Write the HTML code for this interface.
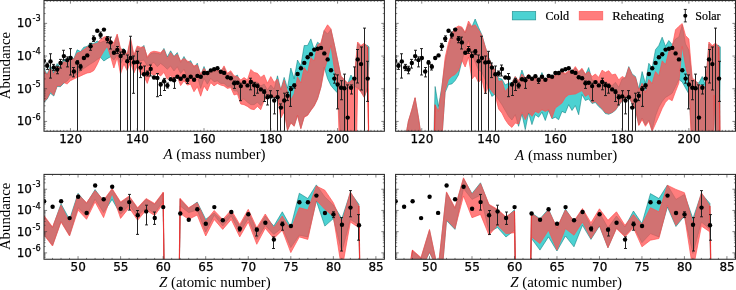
<!DOCTYPE html>
<html><head><meta charset="utf-8"><title>Abundance</title>
<style>
html,body{margin:0;padding:0;background:#fff;}
body{width:736px;height:290px;overflow:hidden;}
svg{display:block;}
.tk{font-family:"DejaVu Sans","Liberation Sans",sans-serif;font-size:12px;fill:#000;stroke:#000;stroke-width:0.25px;}
.lab{font-family:"Liberation Serif",serif;font-size:15px;fill:#000;}
.leg{font-family:"Liberation Serif",serif;font-size:12px;fill:#000;stroke:#000;stroke-width:0.2px;}
</style></head><body>
<svg width="736" height="290" viewBox="0 0 736 290">
<rect width="736" height="290" fill="#fff"/>
<defs>
<clipPath id="ctl"><rect x="44" y="0.55" width="340.4" height="130.7"/></clipPath>
<clipPath id="ctr"><rect x="395.6" y="0.55" width="339.9" height="130.7"/></clipPath>
<clipPath id="cbl"><rect x="44" y="174.4" width="340.4" height="84.85"/></clipPath>
<clipPath id="cbr"><rect x="395.6" y="174.4" width="339.9" height="84.85"/></clipPath>
</defs>
<g clip-path="url(#ctl)">
<path d="M43.74 67.6 L47.08 74.5 L50.42 65.6 L53.76 72.8 L57.09 63.6 L60.43 67 L63.77 59.1 L67.11 61.3 L70.45 55.1 L73.79 59 L77.13 49.8 L80.47 51.5 L83.81 47.2 L87.15 46.5 L90.48 43.1 L93.82 43.5 L97.16 41 L100.5 42.5 L103.84 41 L107.18 41.5 L110.52 45 L113.86 46 L117.2 35.5 L120.53 49.9 L123.87 48.6 L127.21 55.5 L130.55 39.5 L133.89 56.5 L137.23 47.5 L140.57 48.8 L143.91 45.4 L147.25 58.2 L150.59 53.75 L153.93 52.75 L157.26 53.25 L160.6 54.1 L163.94 48.4 L167.28 57 L170.62 50.8 L173.96 56.5 L177.3 52.6 L180.64 62.4 L183.98 56.5 L187.31 62.4 L190.65 60.7 L193.99 67.4 L197.33 63.2 L200.67 75.6 L204.01 66.5 L207.35 74.8 L210.69 72.3 L214.03 71.5 L217.37 70.7 L220.7 73.2 L224.04 67.4 L227.38 74.8 L230.72 72.3 L234.06 77.3 L237.4 75 L240.74 84 L244.08 82 L247.42 85 L250.76 79 L254.1 82 L257.43 82 L260.77 86 L264.11 84 L267.45 90 L270.79 85 L274.13 89 L277.47 75.8 L280.81 89.9 L284.15 77.4 L287.49 88.2 L290.82 68 L294.16 78.75 L297.5 60 L300.84 66 L304.18 45.5 L307.52 45.5 L310.86 38.9 L314.2 49.7 L317.54 42.2 L320.88 44.7 L324.21 30.5 L327.55 34 L330.89 29.5 L334.23 44.2 L337.57 60.2 L340.91 76.5 L344.25 80 L347.59 84 L350.93 75 L354.26 80 L357.6 43.5 L360.94 47.1 L364.28 44.6 L367.62 45.5 L369.02 47 L369.02 60 L367.62 87.5 L364.28 97 L360.94 91.5 L357.6 87.5 L356.6 87.5 L354.26 86 L350.93 86.5 L347.59 88 L346.25 90 L345.42 140 L344.25 140 L340.91 140 L337.57 93 L334.23 89.5 L330.89 85.5 L327.55 78.5 L324.21 67 L320.88 87 L317.54 98.5 L314.2 105.5 L310.86 110 L307.52 115 L304.18 116.7 L300.84 128.3 L297.5 115 L294.16 125.8 L290.82 122.5 L287.49 129.9 L284.15 108 L280.81 110 L277.47 96 L274.13 96 L270.79 95 L267.45 96 L264.11 99.75 L260.77 105.6 L257.43 102.2 L254.1 104.7 L250.76 104.7 L247.42 102.2 L244.08 99 L240.74 99.75 L237.4 91 L234.06 91 L230.72 85.9 L227.38 86.7 L224.04 83.4 L220.7 83.4 L217.37 80.9 L214.03 81.75 L210.69 78.4 L207.35 84.2 L204.01 78.4 L200.67 88.4 L197.33 76 L193.99 80.9 L190.65 75.1 L187.31 76.8 L183.98 69.3 L180.64 73.5 L177.3 66.8 L173.96 71 L170.62 66 L167.28 69.3 L163.94 66 L160.6 63.4 L157.26 66.7 L153.93 62.5 L150.59 64.2 L147.25 65.9 L143.91 60 L140.57 60.9 L137.23 59.2 L133.89 63.4 L130.55 55 L127.21 63 L123.87 58 L120.53 64 L117.2 55 L113.86 60 L110.52 56.8 L107.18 58.7 L103.84 61 L100.5 57.3 L97.16 59.5 L93.82 62 L90.48 64 L87.15 66.25 L83.81 68.5 L80.47 71.25 L77.13 74 L73.79 76.5 L70.45 77 L67.11 81 L63.77 83.2 L60.43 86.7 L57.09 86.5 L53.76 96 L50.42 93.2 L47.08 99.3 L43.74 102.3Z" fill="rgb(0,191,191)" fill-opacity="0.7" stroke="rgb(0,120,120)" stroke-opacity="0.75" stroke-width="0.7" stroke-linejoin="miter"/>
<path d="M43.74 70 L47.08 75 L50.42 68 L53.76 74.5 L57.09 66 L60.43 67.5 L63.77 61.5 L67.11 63 L70.45 57.5 L73.79 59.5 L77.13 53 L80.47 52 L83.81 49.6 L87.15 47 L90.48 45.5 L93.82 44 L97.16 43.4 L100.5 39.6 L103.84 37.1 L107.18 36.5 L110.52 40.25 L113.86 42.75 L117.2 34 L120.53 48.4 L123.87 50.25 L127.21 54 L130.55 38 L133.89 55 L137.23 46 L140.57 47.3 L143.91 46.8 L147.25 56.7 L150.59 52.25 L153.93 51.25 L157.26 51.75 L160.6 52.6 L163.94 49.6 L167.28 58.4 L170.62 52.6 L173.96 56.7 L177.3 54.2 L180.64 60.9 L183.98 58.4 L187.31 60.9 L190.65 62.5 L193.99 65.9 L197.33 65 L200.67 74.1 L204.01 68.3 L207.35 73.3 L210.69 70.8 L214.03 70 L217.37 69.2 L220.7 71.7 L224.04 65.9 L227.38 73.3 L230.72 70.8 L234.06 75.8 L237.4 76.5 L240.74 80 L244.08 77.5 L247.42 80 L250.76 69.5 L254.1 72.4 L257.43 73.3 L260.77 77.4 L264.11 74.9 L267.45 83.2 L270.79 76.6 L274.13 82.4 L277.47 79 L280.81 89.9 L284.15 80 L287.49 92 L290.82 100 L294.16 93.75 L297.5 77 L300.84 83 L304.18 67.5 L307.52 72.5 L310.86 57.5 L314.2 61 L317.54 44.7 L320.88 43 L324.21 30.6 L327.55 24.8 L330.89 28.75 L334.23 44 L337.57 60 L340.91 76 L344.25 79.5 L347.59 83 L350.93 81 L354.26 78 L357.6 42 L360.94 45.6 L364.28 43.1 L367.62 47 L368.62 140 L368.62 140 L367.62 88 L364.28 97.5 L360.94 92 L357.6 88 L356.6 140 L354.26 140 L339.24 140 L337.57 88 L334.23 68 L330.89 45.5 L327.55 59.5 L324.21 70.5 L320.88 87.5 L317.54 99 L314.2 106 L310.86 110.5 L307.52 115.5 L304.18 117.2 L300.84 128.8 L297.5 115.5 L294.16 126.3 L290.82 123 L287.49 130.4 L284.15 112 L280.81 118 L277.47 97.3 L274.13 97.3 L270.79 96.4 L267.45 97.3 L264.11 100.6 L260.77 109.7 L257.43 106.4 L254.1 109.7 L250.76 108.9 L247.42 106.4 L244.08 104.7 L240.74 104 L237.4 94 L234.06 95 L230.72 87.6 L227.38 88.4 L224.04 85.9 L220.7 85.1 L217.37 83.4 L214.03 85.9 L210.69 82.6 L207.35 90.9 L204.01 85.9 L200.67 96.2 L197.33 86.7 L193.99 91.7 L190.65 84.2 L187.31 85.1 L183.98 80.9 L180.64 85.6 L177.3 76.8 L173.96 80.1 L170.62 75.6 L167.28 79.3 L163.94 72.3 L160.6 76 L157.26 73.5 L153.93 75.1 L150.59 73.5 L147.25 83.4 L143.91 76 L140.57 73.5 L137.23 66 L133.89 73 L130.55 62 L127.21 70.6 L123.87 64 L120.53 74 L117.2 57.5 L113.86 68 L110.52 56.25 L107.18 46.25 L103.84 51.25 L100.5 56.9 L97.16 64.5 L93.82 70.5 L90.48 72.4 L87.15 73 L83.81 74.4 L80.47 76 L77.13 77.4 L73.79 79 L70.45 80.7 L67.11 84 L63.77 82.4 L60.43 85.9 L57.09 85.7 L53.76 95.2 L50.42 91.5 L47.08 98.5 L43.74 101.5Z" fill="rgb(255,80,80)" fill-opacity="0.745" stroke="rgb(255,80,80)" stroke-opacity="0.745" stroke-width="0.9" stroke-linejoin="miter"/>
<path d="M367.62 47 L368.62 131.25" stroke="rgb(235,40,40)" stroke-opacity="0.75" stroke-width="1.1" fill="none"/>
<path d="M43.5 56 V66" stroke="#222" stroke-width="1" fill="none"/>
<path d="M42 56h3" stroke="#111" stroke-width="0.9"/>
<path d="M42 66h3" stroke="#111" stroke-width="0.9"/>
<path d="M47.5 63.1 V69.4" stroke="#222" stroke-width="1" fill="none"/>
<path d="M46 63.1h3" stroke="#111" stroke-width="0.9"/>
<path d="M46 69.4h3" stroke="#111" stroke-width="0.9"/>
<path d="M50.5 53.75 V78.1" stroke="#222" stroke-width="1" fill="none"/>
<path d="M49 53.75h3" stroke="#111" stroke-width="0.9"/>
<path d="M49 78.1h3" stroke="#111" stroke-width="0.9"/>
<path d="M53.5 64.4 V70.6" stroke="#222" stroke-width="1" fill="none"/>
<path d="M52 64.4h3" stroke="#111" stroke-width="0.9"/>
<path d="M52 70.6h3" stroke="#111" stroke-width="0.9"/>
<path d="M57.5 66.25 V73.75" stroke="#222" stroke-width="1" fill="none"/>
<path d="M56 66.25h3" stroke="#111" stroke-width="0.9"/>
<path d="M56 73.75h3" stroke="#111" stroke-width="0.9"/>
<path d="M60.5 59.4 V68.1" stroke="#222" stroke-width="1" fill="none"/>
<path d="M59 59.4h3" stroke="#111" stroke-width="0.9"/>
<path d="M59 68.1h3" stroke="#111" stroke-width="0.9"/>
<path d="M63.5 50.25 V60" stroke="#222" stroke-width="1" fill="none"/>
<path d="M62 50.25h3" stroke="#111" stroke-width="0.9"/>
<path d="M62 60h3" stroke="#111" stroke-width="0.9"/>
<path d="M67.5 56.9 V66.9" stroke="#222" stroke-width="1" fill="none"/>
<path d="M66 56.9h3" stroke="#111" stroke-width="0.9"/>
<path d="M66 66.9h3" stroke="#111" stroke-width="0.9"/>
<path d="M70.5 48.6 V75" stroke="#222" stroke-width="1" fill="none"/>
<path d="M69 48.6h3" stroke="#111" stroke-width="0.9"/>
<path d="M69 75h3" stroke="#111" stroke-width="0.9"/>
<path d="M73.5 67.5 V76.9" stroke="#222" stroke-width="1" fill="none"/>
<path d="M72 67.5h3" stroke="#111" stroke-width="0.9"/>
<path d="M72 76.9h3" stroke="#111" stroke-width="0.9"/>
<path d="M77.5 60.6 V131.25" stroke="#222" stroke-width="1" fill="none"/>
<path d="M76 60.6h3" stroke="#111" stroke-width="0.9"/>
<path d="M80.5 64.4 V70" stroke="#222" stroke-width="1" fill="none"/>
<path d="M79 64.4h3" stroke="#111" stroke-width="0.9"/>
<path d="M79 70h3" stroke="#111" stroke-width="0.9"/>
<path d="M90.5 43.4 V50.25" stroke="#222" stroke-width="1" fill="none"/>
<path d="M89 43.4h3" stroke="#111" stroke-width="0.9"/>
<path d="M89 50.25h3" stroke="#111" stroke-width="0.9"/>
<path d="M93.5 35.9 V41.5" stroke="#222" stroke-width="1" fill="none"/>
<path d="M92 35.9h3" stroke="#111" stroke-width="0.9"/>
<path d="M92 41.5h3" stroke="#111" stroke-width="0.9"/>
<path d="M100.5 32 V38" stroke="#222" stroke-width="1" fill="none"/>
<path d="M99 32h3" stroke="#111" stroke-width="0.9"/>
<path d="M99 38h3" stroke="#111" stroke-width="0.9"/>
<path d="M107.5 36.5 V42.75" stroke="#222" stroke-width="1" fill="none"/>
<path d="M106 36.5h3" stroke="#111" stroke-width="0.9"/>
<path d="M106 42.75h3" stroke="#111" stroke-width="0.9"/>
<path d="M110.5 37.1 V49" stroke="#222" stroke-width="1" fill="none"/>
<path d="M109 37.1h3" stroke="#111" stroke-width="0.9"/>
<path d="M109 49h3" stroke="#111" stroke-width="0.9"/>
<path d="M117.5 46.5 V53.4" stroke="#222" stroke-width="1" fill="none"/>
<path d="M116 46.5h3" stroke="#111" stroke-width="0.9"/>
<path d="M116 53.4h3" stroke="#111" stroke-width="0.9"/>
<path d="M120.5 52 V131.25" stroke="#222" stroke-width="1" fill="none"/>
<path d="M119 52h3" stroke="#111" stroke-width="0.9"/>
<path d="M123.5 49.6 V54.6" stroke="#222" stroke-width="1" fill="none"/>
<path d="M122 49.6h3" stroke="#111" stroke-width="0.9"/>
<path d="M122 54.6h3" stroke="#111" stroke-width="0.9"/>
<path d="M127.5 55 V131.25" stroke="#222" stroke-width="1" fill="none"/>
<path d="M126 55h3" stroke="#111" stroke-width="0.9"/>
<path d="M130.5 36.25 V131.25" stroke="#222" stroke-width="1" fill="none"/>
<path d="M129 36.25h3" stroke="#111" stroke-width="0.9"/>
<path d="M133.5 56 V93.3" stroke="#222" stroke-width="1" fill="none"/>
<path d="M132 56h3" stroke="#111" stroke-width="0.9"/>
<path d="M132 93.3h3" stroke="#111" stroke-width="0.9"/>
<path d="M137.5 51.3 V131.25" stroke="#222" stroke-width="1" fill="none"/>
<path d="M136 51.3h3" stroke="#111" stroke-width="0.9"/>
<path d="M140.5 63 V77.6" stroke="#222" stroke-width="1" fill="none"/>
<path d="M139 63h3" stroke="#111" stroke-width="0.9"/>
<path d="M139 77.6h3" stroke="#111" stroke-width="0.9"/>
<path d="M144.5 66 V131.25" stroke="#222" stroke-width="1" fill="none"/>
<path d="M143 66h3" stroke="#111" stroke-width="0.9"/>
<path d="M147.5 71 V76" stroke="#222" stroke-width="1" fill="none"/>
<path d="M146 71h3" stroke="#111" stroke-width="0.9"/>
<path d="M146 76h3" stroke="#111" stroke-width="0.9"/>
<path d="M150.5 65 V76" stroke="#222" stroke-width="1" fill="none"/>
<path d="M149 65h3" stroke="#111" stroke-width="0.9"/>
<path d="M149 76h3" stroke="#111" stroke-width="0.9"/>
<path d="M157.5 73.5 V96.7" stroke="#222" stroke-width="1" fill="none"/>
<path d="M156 73.5h3" stroke="#111" stroke-width="0.9"/>
<path d="M156 96.7h3" stroke="#111" stroke-width="0.9"/>
<path d="M160.5 82.6 V95.5" stroke="#222" stroke-width="1" fill="none"/>
<path d="M159 82.6h3" stroke="#111" stroke-width="0.9"/>
<path d="M159 95.5h3" stroke="#111" stroke-width="0.9"/>
<path d="M164.5 78.4 V90.5" stroke="#222" stroke-width="1" fill="none"/>
<path d="M163 78.4h3" stroke="#111" stroke-width="0.9"/>
<path d="M163 90.5h3" stroke="#111" stroke-width="0.9"/>
<path d="M167.5 83 V88" stroke="#222" stroke-width="1" fill="none"/>
<path d="M166 83h3" stroke="#111" stroke-width="0.9"/>
<path d="M166 88h3" stroke="#111" stroke-width="0.9"/>
<path d="M174.5 77.6 V88.4" stroke="#222" stroke-width="1" fill="none"/>
<path d="M173 77.6h3" stroke="#111" stroke-width="0.9"/>
<path d="M173 88.4h3" stroke="#111" stroke-width="0.9"/>
<path d="M187.5 78 V83.4" stroke="#222" stroke-width="1" fill="none"/>
<path d="M186 78h3" stroke="#111" stroke-width="0.9"/>
<path d="M186 83.4h3" stroke="#111" stroke-width="0.9"/>
<path d="M234.5 81 V88.4" stroke="#222" stroke-width="1" fill="none"/>
<path d="M233 81h3" stroke="#111" stroke-width="0.9"/>
<path d="M233 88.4h3" stroke="#111" stroke-width="0.9"/>
<path d="M240.5 83.2 V100.7" stroke="#222" stroke-width="1" fill="none"/>
<path d="M239 83.2h3" stroke="#111" stroke-width="0.9"/>
<path d="M239 100.7h3" stroke="#111" stroke-width="0.9"/>
<path d="M250.5 78.2 V89.8" stroke="#222" stroke-width="1" fill="none"/>
<path d="M249 78.2h3" stroke="#111" stroke-width="0.9"/>
<path d="M249 89.8h3" stroke="#111" stroke-width="0.9"/>
<path d="M254.5 82.4 V95.6" stroke="#222" stroke-width="1" fill="none"/>
<path d="M253 82.4h3" stroke="#111" stroke-width="0.9"/>
<path d="M253 95.6h3" stroke="#111" stroke-width="0.9"/>
<path d="M257.5 84 V93.2" stroke="#222" stroke-width="1" fill="none"/>
<path d="M256 84h3" stroke="#111" stroke-width="0.9"/>
<path d="M256 93.2h3" stroke="#111" stroke-width="0.9"/>
<path d="M264.5 89.8 V101.5" stroke="#222" stroke-width="1" fill="none"/>
<path d="M263 89.8h3" stroke="#111" stroke-width="0.9"/>
<path d="M263 101.5h3" stroke="#111" stroke-width="0.9"/>
<path d="M267.5 94.8 V105" stroke="#222" stroke-width="1" fill="none"/>
<path d="M266 94.8h3" stroke="#111" stroke-width="0.9"/>
<path d="M266 105h3" stroke="#111" stroke-width="0.9"/>
<path d="M270.5 90.7 V131.25" stroke="#222" stroke-width="1" fill="none"/>
<path d="M269 90.7h3" stroke="#111" stroke-width="0.9"/>
<path d="M274.5 97.3 V113.9" stroke="#222" stroke-width="1" fill="none"/>
<path d="M273 97.3h3" stroke="#111" stroke-width="0.9"/>
<path d="M273 113.9h3" stroke="#111" stroke-width="0.9"/>
<path d="M277.5 90.6 V131.25" stroke="#222" stroke-width="1" fill="none"/>
<path d="M276 90.6h3" stroke="#111" stroke-width="0.9"/>
<path d="M280.5 103.9 V131.25" stroke="#222" stroke-width="1" fill="none"/>
<path d="M279 103.9h3" stroke="#111" stroke-width="0.9"/>
<path d="M284.5 93.2 V131.25" stroke="#222" stroke-width="1" fill="none"/>
<path d="M283 93.2h3" stroke="#111" stroke-width="0.9"/>
<path d="M287.5 92.3 V100.6" stroke="#222" stroke-width="1" fill="none"/>
<path d="M286 92.3h3" stroke="#111" stroke-width="0.9"/>
<path d="M286 100.6h3" stroke="#111" stroke-width="0.9"/>
<path d="M290.5 86.5 V106.4" stroke="#222" stroke-width="1" fill="none"/>
<path d="M289 86.5h3" stroke="#111" stroke-width="0.9"/>
<path d="M289 106.4h3" stroke="#111" stroke-width="0.9"/>
<path d="M294.5 84 V88.2" stroke="#222" stroke-width="1" fill="none"/>
<path d="M293 84h3" stroke="#111" stroke-width="0.9"/>
<path d="M293 88.2h3" stroke="#111" stroke-width="0.9"/>
<path d="M334.5 74.1 V83.2" stroke="#222" stroke-width="1" fill="none"/>
<path d="M333 74.1h3" stroke="#111" stroke-width="0.9"/>
<path d="M333 83.2h3" stroke="#111" stroke-width="0.9"/>
<path d="M337.5 74.9 V108.9" stroke="#222" stroke-width="1" fill="none"/>
<path d="M336 74.9h3" stroke="#111" stroke-width="0.9"/>
<path d="M336 108.9h3" stroke="#111" stroke-width="0.9"/>
<path d="M341.5 80.7 V99.75" stroke="#222" stroke-width="1" fill="none"/>
<path d="M340 80.7h3" stroke="#111" stroke-width="0.9"/>
<path d="M340 99.75h3" stroke="#111" stroke-width="0.9"/>
<path d="M344.5 74.1 V131.25" stroke="#222" stroke-width="1" fill="none"/>
<path d="M343 74.1h3" stroke="#111" stroke-width="0.9"/>
<path d="M347.5 84.9 V131.25" stroke="#222" stroke-width="1" fill="none"/>
<path d="M346 84.9h3" stroke="#111" stroke-width="0.9"/>
<path d="M351.5 84.9 V94" stroke="#222" stroke-width="1" fill="none"/>
<path d="M350 84.9h3" stroke="#111" stroke-width="0.9"/>
<path d="M350 94h3" stroke="#111" stroke-width="0.9"/>
<path d="M354.5 66.9 V131.25" stroke="#222" stroke-width="1" fill="none"/>
<path d="M353 66.9h3" stroke="#111" stroke-width="0.9"/>
<path d="M357.5 49.5 V83" stroke="#222" stroke-width="1" fill="none"/>
<path d="M356 49.5h3" stroke="#111" stroke-width="0.9"/>
<path d="M356 83h3" stroke="#111" stroke-width="0.9"/>
<path d="M361.5 47 V90" stroke="#222" stroke-width="1" fill="none"/>
<path d="M360 47h3" stroke="#111" stroke-width="0.9"/>
<path d="M360 90h3" stroke="#111" stroke-width="0.9"/>
<path d="M364.5 28.1 V131.25" stroke="#222" stroke-width="1" fill="none"/>
<path d="M363 28.1h3" stroke="#111" stroke-width="0.9"/>
<path d="M367.5 61.3 V101.4" stroke="#222" stroke-width="1" fill="none"/>
<path d="M366 61.3h3" stroke="#111" stroke-width="0.9"/>
<path d="M366 101.4h3" stroke="#111" stroke-width="0.9"/>
<circle cx="43.84" cy="60.9" r="2.2" fill="#000"/>
<circle cx="47.18" cy="65.8" r="2.2" fill="#000"/>
<circle cx="50.52" cy="61.4" r="2.2" fill="#000"/>
<circle cx="53.86" cy="67.4" r="2.2" fill="#000"/>
<circle cx="57.19" cy="69.5" r="2.2" fill="#000"/>
<circle cx="60.53" cy="63" r="2.2" fill="#000"/>
<circle cx="63.87" cy="56.1" r="2.2" fill="#000"/>
<circle cx="67.21" cy="60.1" r="2.2" fill="#000"/>
<circle cx="70.55" cy="58" r="2.2" fill="#000"/>
<circle cx="73.89" cy="71.5" r="2.2" fill="#000"/>
<circle cx="77.23" cy="62.65" r="2.2" fill="#000"/>
<circle cx="80.57" cy="66.8" r="2.2" fill="#000"/>
<circle cx="83.91" cy="58" r="2.2" fill="#000"/>
<circle cx="87.25" cy="55.4" r="2.2" fill="#000"/>
<circle cx="90.58" cy="46.3" r="2.2" fill="#000"/>
<circle cx="93.92" cy="38.7" r="2.2" fill="#000"/>
<circle cx="97.26" cy="30.7" r="2.2" fill="#000"/>
<circle cx="100.6" cy="34.9" r="2.2" fill="#000"/>
<circle cx="103.94" cy="29.6" r="2.2" fill="#000"/>
<circle cx="107.28" cy="39.1" r="2.2" fill="#000"/>
<circle cx="110.62" cy="42.4" r="2.2" fill="#000"/>
<circle cx="113.96" cy="52.8" r="2.2" fill="#000"/>
<circle cx="117.3" cy="49.9" r="2.2" fill="#000"/>
<circle cx="120.63" cy="56" r="2.2" fill="#000"/>
<circle cx="123.97" cy="51.8" r="2.2" fill="#000"/>
<circle cx="127.31" cy="61.2" r="2.2" fill="#000"/>
<circle cx="130.65" cy="58" r="2.2" fill="#000"/>
<circle cx="133.99" cy="62.4" r="2.2" fill="#000"/>
<circle cx="137.33" cy="62.1" r="2.2" fill="#000"/>
<circle cx="140.67" cy="67.6" r="2.2" fill="#000"/>
<circle cx="144.01" cy="74.2" r="2.2" fill="#000"/>
<circle cx="147.35" cy="73.4" r="2.2" fill="#000"/>
<circle cx="150.69" cy="68.9" r="2.2" fill="#000"/>
<circle cx="154.03" cy="77.5" r="2.2" fill="#000"/>
<circle cx="157.36" cy="77.9" r="2.2" fill="#000"/>
<circle cx="160.7" cy="84.6" r="2.2" fill="#000"/>
<circle cx="164.04" cy="81.3" r="2.2" fill="#000"/>
<circle cx="167.38" cy="85.5" r="2.2" fill="#000"/>
<circle cx="170.72" cy="79.2" r="2.2" fill="#000"/>
<circle cx="174.06" cy="80.3" r="2.2" fill="#000"/>
<circle cx="177.4" cy="76.7" r="2.2" fill="#000"/>
<circle cx="180.74" cy="78.8" r="2.2" fill="#000"/>
<circle cx="184.08" cy="76.3" r="2.2" fill="#000"/>
<circle cx="187.41" cy="80" r="2.2" fill="#000"/>
<circle cx="190.75" cy="76.7" r="2.2" fill="#000"/>
<circle cx="194.09" cy="79.7" r="2.2" fill="#000"/>
<circle cx="197.43" cy="75.9" r="2.2" fill="#000"/>
<circle cx="200.77" cy="76.7" r="2.2" fill="#000"/>
<circle cx="204.11" cy="73" r="2.2" fill="#000"/>
<circle cx="207.45" cy="73" r="2.2" fill="#000"/>
<circle cx="210.79" cy="70.4" r="2.2" fill="#000"/>
<circle cx="214.13" cy="69.2" r="2.2" fill="#000"/>
<circle cx="217.47" cy="68.2" r="2.2" fill="#000"/>
<circle cx="220.8" cy="71.7" r="2.2" fill="#000"/>
<circle cx="224.14" cy="72.9" r="2.2" fill="#000"/>
<circle cx="227.48" cy="77.2" r="2.2" fill="#000"/>
<circle cx="230.82" cy="78.3" r="2.2" fill="#000"/>
<circle cx="234.16" cy="83.3" r="2.2" fill="#000"/>
<circle cx="237.5" cy="82.8" r="2.2" fill="#000"/>
<circle cx="240.84" cy="86.1" r="2.2" fill="#000"/>
<circle cx="244.18" cy="82.1" r="2.2" fill="#000"/>
<circle cx="247.52" cy="85.4" r="2.2" fill="#000"/>
<circle cx="250.86" cy="82" r="2.2" fill="#000"/>
<circle cx="254.2" cy="85.3" r="2.2" fill="#000"/>
<circle cx="257.53" cy="86.1" r="2.2" fill="#000"/>
<circle cx="260.87" cy="89.4" r="2.2" fill="#000"/>
<circle cx="264.21" cy="91.9" r="2.2" fill="#000"/>
<circle cx="267.55" cy="97.2" r="2.2" fill="#000"/>
<circle cx="270.89" cy="96.4" r="2.2" fill="#000"/>
<circle cx="274.23" cy="100.5" r="2.2" fill="#000"/>
<circle cx="277.57" cy="97.2" r="2.2" fill="#000"/>
<circle cx="280.91" cy="107.6" r="2.2" fill="#000"/>
<circle cx="284.25" cy="100.5" r="2.2" fill="#000"/>
<circle cx="287.59" cy="95.7" r="2.2" fill="#000"/>
<circle cx="290.92" cy="89.1" r="2.2" fill="#000"/>
<circle cx="294.26" cy="85.4" r="2.2" fill="#000"/>
<circle cx="297.6" cy="74" r="2.2" fill="#000"/>
<circle cx="300.94" cy="68.2" r="2.2" fill="#000"/>
<circle cx="304.28" cy="62.9" r="2.2" fill="#000"/>
<circle cx="307.62" cy="57.3" r="2.2" fill="#000"/>
<circle cx="310.96" cy="54.2" r="2.2" fill="#000"/>
<circle cx="314.3" cy="49.6" r="2.2" fill="#000"/>
<circle cx="317.64" cy="48.7" r="2.2" fill="#000"/>
<circle cx="320.98" cy="47.9" r="2.2" fill="#000"/>
<circle cx="324.31" cy="53.4" r="2.2" fill="#000"/>
<circle cx="327.65" cy="59.4" r="2.2" fill="#000"/>
<circle cx="330.99" cy="70.2" r="2.2" fill="#000"/>
<circle cx="334.33" cy="78.6" r="2.2" fill="#000"/>
<circle cx="337.67" cy="84.5" r="2.2" fill="#000"/>
<circle cx="341.01" cy="87.8" r="2.2" fill="#000"/>
<circle cx="344.35" cy="88.2" r="2.2" fill="#000"/>
<circle cx="347.69" cy="117.6" r="2.2" fill="#000"/>
<circle cx="351.03" cy="87.8" r="2.2" fill="#000"/>
<circle cx="354.37" cy="78.6" r="2.2" fill="#000"/>
<circle cx="357.7" cy="59.4" r="2.2" fill="#000"/>
<circle cx="361.04" cy="64.1" r="2.2" fill="#000"/>
<circle cx="367.72" cy="78.6" r="2.2" fill="#000"/>
</g>
<g clip-path="url(#ctr)">
<path d="M405.06 140 L408.39 121.5 L411.73 110.5 L415.07 98 L418.41 117.5 L421.75 140 L433.77 140 L435.11 86.5 L438.44 106.4 L441.78 87.3 L445.12 62 L448.46 47 L451.8 36 L455.14 30 L458.48 27.5 L461.82 28 L465.16 33 L468.5 24 L471.83 27 L475.17 19 L478.51 27.3 L481.85 34.7 L485.19 46.5 L488.53 57.2 L491.87 64.2 L495.21 70.7 L498.55 78.2 L501.89 79 L505.23 84.9 L508.56 83.2 L511.9 82.4 L515.24 76.6 L518.58 82 L521.92 70 L525.26 79.5 L528.6 75 L531.94 81 L535.28 76.5 L538.62 81 L541.95 72.5 L545.29 82 L548.63 76.5 L551.97 80 L555.31 75 L558.65 75 L561.99 73 L565.33 74.3 L568.67 71.8 L572 72.6 L575.34 68 L578.68 72.6 L582.02 69.3 L585.36 75 L588.7 67.5 L592.04 80 L595.38 81.5 L598.72 83 L602.06 79 L605.39 83 L608.73 84.8 L612.07 85.7 L615.41 82.3 L618.75 87.3 L622.09 79 L625.43 77.4 L628.77 66.6 L632.11 74 L635.45 76.5 L638.78 89 L642.12 71.6 L645.46 83.6 L648.8 63.3 L652.14 68.2 L655.48 49.7 L658.82 45.5 L662.16 37.2 L665.5 46.3 L668.84 40.5 L672.17 44.7 L675.51 39 L678.85 37 L682.19 25 L685.53 44 L688.87 50 L692.21 80 L695.55 82 L698.89 83 L702.23 76.5 L705.57 85.6 L708.9 44 L712.24 47 L715.58 45 L718.92 45.5 L720.32 47 L720.32 60 L719.59 140 L715.25 140 L714.25 95.5 L713.24 140 L692.21 140 L688.87 94 L685.53 88 L682.19 82 L678.85 79.5 L675.51 86.6 L672.17 93.2 L668.84 95.5 L665.5 97.4 L662.16 101.5 L658.82 107.3 L655.48 116 L652.14 130 L648.8 120 L645.46 125 L642.12 118 L638.78 125 L635.45 109.5 L632.11 103.7 L628.77 97 L625.43 97.9 L622.09 101.2 L618.75 105.3 L615.41 110.3 L612.07 112.8 L608.73 114.3 L605.39 113.5 L602.06 109.3 L598.72 106.5 L595.38 102.5 L592.04 103.5 L588.7 99 L585.36 100.5 L582.02 94.5 L578.68 114.7 L575.34 105.6 L572 110.5 L568.67 104.7 L565.33 113 L561.99 111.4 L558.65 119.7 L555.31 117.2 L551.97 118.8 L548.63 110.5 L545.29 120.5 L541.95 112.2 L538.62 117.2 L535.28 114.7 L531.94 124.6 L528.6 113 L525.26 129.6 L521.92 113.9 L518.58 126.3 L515.24 114.7 L511.9 120 L508.56 116.3 L505.23 110.5 L501.89 104.7 L498.55 99.75 L495.21 94 L491.87 96.4 L488.53 88.5 L485.19 80 L481.85 72 L478.51 70 L475.17 62 L471.83 54.6 L468.5 40.3 L465.16 49.6 L461.82 61.5 L458.48 75 L455.14 80.6 L451.8 84 L448.46 84.6 L445.12 92.5 L441.78 140 L433.77 140 L421.75 140 L405.06 140Z" fill="rgb(0,191,191)" fill-opacity="0.7" stroke="rgb(0,120,120)" stroke-opacity="0.75" stroke-width="0.7" stroke-linejoin="miter"/>
<path d="M405.06 140 L408.39 121 L411.73 110 L415.07 97.5 L418.41 117 L421.75 140 L434.44 140 L435.11 104.7 L438.44 111.4 L441.78 89 L445.12 57.5 L448.46 43 L451.8 33.9 L455.14 28.1 L458.48 26 L461.82 27 L465.16 32.2 L468.5 21 L471.83 26.4 L475.17 24.8 L478.51 29.75 L481.85 35.6 L485.19 46.8 L488.53 57.5 L491.87 64.5 L495.21 71 L498.55 81.6 L501.89 80.7 L505.23 91.5 L508.56 87.4 L511.9 83.2 L515.24 76.6 L518.58 80.7 L521.92 74.1 L525.26 78.2 L528.6 74.1 L531.94 79.9 L535.28 75.75 L538.62 79.9 L541.95 74.9 L545.29 80.7 L548.63 75.75 L551.97 79 L555.31 74.1 L558.65 74.1 L561.99 72 L565.33 73.3 L568.67 70.8 L572 71.6 L575.34 66.6 L578.68 71.6 L582.02 68.3 L585.36 74.1 L588.7 71.6 L592.04 76.6 L595.38 74 L598.72 77.4 L602.06 70.2 L605.39 72.4 L608.73 70.7 L612.07 74.9 L615.41 74 L618.75 79.9 L622.09 76.5 L625.43 78.2 L628.77 67.4 L632.11 74.9 L635.45 77.4 L638.78 90.2 L642.12 83.2 L645.46 92.6 L648.8 79.5 L652.14 83.5 L655.48 71.6 L658.82 75.7 L662.16 60.8 L665.5 64.5 L668.84 51.5 L672.17 47 L675.51 29.75 L678.85 26.4 L682.19 23.6 L685.53 35.6 L688.87 39 L692.21 78 L695.55 80.7 L698.89 84.8 L702.23 85.6 L705.57 87 L708.9 42 L712.24 45.6 L715.58 43.1 L718.92 47 L719.92 140 L719.92 140 L715.25 140 L714.25 95 L713.24 140 L691.21 140 L688.87 80 L685.53 66 L682.19 46.3 L678.85 83 L675.51 91.6 L672.17 100.7 L668.84 98.8 L665.5 102.3 L662.16 108.5 L658.82 116.4 L655.48 123.8 L652.14 131.3 L648.8 121.3 L645.46 126.3 L642.12 119.7 L638.78 125.5 L635.45 109 L632.11 103.2 L628.77 96.5 L625.43 97.4 L622.09 100.7 L618.75 104.8 L615.41 109.8 L612.07 112.3 L608.73 113.5 L605.39 112.5 L602.06 108.5 L598.72 105 L595.38 101.5 L592.04 102.5 L588.7 94 L585.36 96.4 L582.02 90.6 L578.68 92.3 L575.34 94 L572 94.3 L568.67 94.8 L565.33 97.3 L561.99 103 L558.65 105.6 L555.31 108 L551.97 118 L548.63 109.7 L545.29 111.4 L541.95 109.7 L538.62 113 L535.28 111.4 L531.94 116.3 L528.6 112.2 L525.26 119.7 L521.92 112.2 L518.58 124 L515.24 123 L511.9 127.4 L508.56 124.6 L505.23 119.7 L501.89 113 L498.55 108.9 L495.21 95 L491.87 91.5 L488.53 86.5 L485.19 93.75 L481.85 78.75 L478.51 82.5 L475.17 75.6 L471.83 79 L468.5 57 L465.16 67 L461.82 60 L458.48 70.6 L455.14 74.4 L451.8 76.25 L448.46 79.4 L445.12 90.6 L441.78 140 L434.44 140 L421.75 140 L405.06 140Z" fill="rgb(255,80,80)" fill-opacity="0.745" stroke="rgb(255,80,80)" stroke-opacity="0.745" stroke-width="0.9" stroke-linejoin="miter"/>
<path d="M435.11 104.7 L434.44 131.25" stroke="rgb(235,40,40)" stroke-opacity="0.75" stroke-width="1.1" fill="none"/>
<path d="M718.92 47 L719.92 131.25" stroke="rgb(235,40,40)" stroke-opacity="0.75" stroke-width="1.1" fill="none"/>
<path d="M395.5 56 V66" stroke="#222" stroke-width="1" fill="none"/>
<path d="M394 56h3" stroke="#111" stroke-width="0.9"/>
<path d="M394 66h3" stroke="#111" stroke-width="0.9"/>
<path d="M398.5 63.1 V69.4" stroke="#222" stroke-width="1" fill="none"/>
<path d="M397 63.1h3" stroke="#111" stroke-width="0.9"/>
<path d="M397 69.4h3" stroke="#111" stroke-width="0.9"/>
<path d="M401.5 53.75 V78.1" stroke="#222" stroke-width="1" fill="none"/>
<path d="M400 53.75h3" stroke="#111" stroke-width="0.9"/>
<path d="M400 78.1h3" stroke="#111" stroke-width="0.9"/>
<path d="M405.5 64.4 V70.6" stroke="#222" stroke-width="1" fill="none"/>
<path d="M404 64.4h3" stroke="#111" stroke-width="0.9"/>
<path d="M404 70.6h3" stroke="#111" stroke-width="0.9"/>
<path d="M408.5 66.25 V73.75" stroke="#222" stroke-width="1" fill="none"/>
<path d="M407 66.25h3" stroke="#111" stroke-width="0.9"/>
<path d="M407 73.75h3" stroke="#111" stroke-width="0.9"/>
<path d="M411.5 59.4 V68.1" stroke="#222" stroke-width="1" fill="none"/>
<path d="M410 59.4h3" stroke="#111" stroke-width="0.9"/>
<path d="M410 68.1h3" stroke="#111" stroke-width="0.9"/>
<path d="M415.5 50.25 V60" stroke="#222" stroke-width="1" fill="none"/>
<path d="M414 50.25h3" stroke="#111" stroke-width="0.9"/>
<path d="M414 60h3" stroke="#111" stroke-width="0.9"/>
<path d="M418.5 56.9 V66.9" stroke="#222" stroke-width="1" fill="none"/>
<path d="M417 56.9h3" stroke="#111" stroke-width="0.9"/>
<path d="M417 66.9h3" stroke="#111" stroke-width="0.9"/>
<path d="M421.5 48.6 V75" stroke="#222" stroke-width="1" fill="none"/>
<path d="M420 48.6h3" stroke="#111" stroke-width="0.9"/>
<path d="M420 75h3" stroke="#111" stroke-width="0.9"/>
<path d="M425.5 67.5 V76.9" stroke="#222" stroke-width="1" fill="none"/>
<path d="M424 67.5h3" stroke="#111" stroke-width="0.9"/>
<path d="M424 76.9h3" stroke="#111" stroke-width="0.9"/>
<path d="M428.5 60.6 V131.25" stroke="#222" stroke-width="1" fill="none"/>
<path d="M427 60.6h3" stroke="#111" stroke-width="0.9"/>
<path d="M431.5 64.4 V70" stroke="#222" stroke-width="1" fill="none"/>
<path d="M430 64.4h3" stroke="#111" stroke-width="0.9"/>
<path d="M430 70h3" stroke="#111" stroke-width="0.9"/>
<path d="M441.5 43.4 V50.25" stroke="#222" stroke-width="1" fill="none"/>
<path d="M440 43.4h3" stroke="#111" stroke-width="0.9"/>
<path d="M440 50.25h3" stroke="#111" stroke-width="0.9"/>
<path d="M445.5 35.9 V41.5" stroke="#222" stroke-width="1" fill="none"/>
<path d="M444 35.9h3" stroke="#111" stroke-width="0.9"/>
<path d="M444 41.5h3" stroke="#111" stroke-width="0.9"/>
<path d="M451.5 32 V38" stroke="#222" stroke-width="1" fill="none"/>
<path d="M450 32h3" stroke="#111" stroke-width="0.9"/>
<path d="M450 38h3" stroke="#111" stroke-width="0.9"/>
<path d="M458.5 36.5 V42.75" stroke="#222" stroke-width="1" fill="none"/>
<path d="M457 36.5h3" stroke="#111" stroke-width="0.9"/>
<path d="M457 42.75h3" stroke="#111" stroke-width="0.9"/>
<path d="M461.5 37.1 V49" stroke="#222" stroke-width="1" fill="none"/>
<path d="M460 37.1h3" stroke="#111" stroke-width="0.9"/>
<path d="M460 49h3" stroke="#111" stroke-width="0.9"/>
<path d="M468.5 46.5 V53.4" stroke="#222" stroke-width="1" fill="none"/>
<path d="M467 46.5h3" stroke="#111" stroke-width="0.9"/>
<path d="M467 53.4h3" stroke="#111" stroke-width="0.9"/>
<path d="M471.5 52 V131.25" stroke="#222" stroke-width="1" fill="none"/>
<path d="M470 52h3" stroke="#111" stroke-width="0.9"/>
<path d="M475.5 49.6 V54.6" stroke="#222" stroke-width="1" fill="none"/>
<path d="M474 49.6h3" stroke="#111" stroke-width="0.9"/>
<path d="M474 54.6h3" stroke="#111" stroke-width="0.9"/>
<path d="M478.5 55 V131.25" stroke="#222" stroke-width="1" fill="none"/>
<path d="M477 55h3" stroke="#111" stroke-width="0.9"/>
<path d="M481.5 36.25 V131.25" stroke="#222" stroke-width="1" fill="none"/>
<path d="M480 36.25h3" stroke="#111" stroke-width="0.9"/>
<path d="M485.5 56 V93.3" stroke="#222" stroke-width="1" fill="none"/>
<path d="M484 56h3" stroke="#111" stroke-width="0.9"/>
<path d="M484 93.3h3" stroke="#111" stroke-width="0.9"/>
<path d="M488.5 51.3 V131.25" stroke="#222" stroke-width="1" fill="none"/>
<path d="M487 51.3h3" stroke="#111" stroke-width="0.9"/>
<path d="M491.5 63 V77.6" stroke="#222" stroke-width="1" fill="none"/>
<path d="M490 63h3" stroke="#111" stroke-width="0.9"/>
<path d="M490 77.6h3" stroke="#111" stroke-width="0.9"/>
<path d="M495.5 66 V131.25" stroke="#222" stroke-width="1" fill="none"/>
<path d="M494 66h3" stroke="#111" stroke-width="0.9"/>
<path d="M498.5 71 V76" stroke="#222" stroke-width="1" fill="none"/>
<path d="M497 71h3" stroke="#111" stroke-width="0.9"/>
<path d="M497 76h3" stroke="#111" stroke-width="0.9"/>
<path d="M501.5 65 V76" stroke="#222" stroke-width="1" fill="none"/>
<path d="M500 65h3" stroke="#111" stroke-width="0.9"/>
<path d="M500 76h3" stroke="#111" stroke-width="0.9"/>
<path d="M508.5 73.5 V96.7" stroke="#222" stroke-width="1" fill="none"/>
<path d="M507 73.5h3" stroke="#111" stroke-width="0.9"/>
<path d="M507 96.7h3" stroke="#111" stroke-width="0.9"/>
<path d="M512.5 82.6 V95.5" stroke="#222" stroke-width="1" fill="none"/>
<path d="M511 82.6h3" stroke="#111" stroke-width="0.9"/>
<path d="M511 95.5h3" stroke="#111" stroke-width="0.9"/>
<path d="M515.5 78.4 V90.5" stroke="#222" stroke-width="1" fill="none"/>
<path d="M514 78.4h3" stroke="#111" stroke-width="0.9"/>
<path d="M514 90.5h3" stroke="#111" stroke-width="0.9"/>
<path d="M518.5 83 V88" stroke="#222" stroke-width="1" fill="none"/>
<path d="M517 83h3" stroke="#111" stroke-width="0.9"/>
<path d="M517 88h3" stroke="#111" stroke-width="0.9"/>
<path d="M525.5 77.6 V88.4" stroke="#222" stroke-width="1" fill="none"/>
<path d="M524 77.6h3" stroke="#111" stroke-width="0.9"/>
<path d="M524 88.4h3" stroke="#111" stroke-width="0.9"/>
<path d="M538.5 78 V83.4" stroke="#222" stroke-width="1" fill="none"/>
<path d="M537 78h3" stroke="#111" stroke-width="0.9"/>
<path d="M537 83.4h3" stroke="#111" stroke-width="0.9"/>
<path d="M585.5 81 V88.4" stroke="#222" stroke-width="1" fill="none"/>
<path d="M584 81h3" stroke="#111" stroke-width="0.9"/>
<path d="M584 88.4h3" stroke="#111" stroke-width="0.9"/>
<path d="M592.5 83.2 V100.7" stroke="#222" stroke-width="1" fill="none"/>
<path d="M591 83.2h3" stroke="#111" stroke-width="0.9"/>
<path d="M591 100.7h3" stroke="#111" stroke-width="0.9"/>
<path d="M602.5 78.2 V89.8" stroke="#222" stroke-width="1" fill="none"/>
<path d="M601 78.2h3" stroke="#111" stroke-width="0.9"/>
<path d="M601 89.8h3" stroke="#111" stroke-width="0.9"/>
<path d="M605.5 82.4 V95.6" stroke="#222" stroke-width="1" fill="none"/>
<path d="M604 82.4h3" stroke="#111" stroke-width="0.9"/>
<path d="M604 95.6h3" stroke="#111" stroke-width="0.9"/>
<path d="M608.5 84 V93.2" stroke="#222" stroke-width="1" fill="none"/>
<path d="M607 84h3" stroke="#111" stroke-width="0.9"/>
<path d="M607 93.2h3" stroke="#111" stroke-width="0.9"/>
<path d="M615.5 89.8 V101.5" stroke="#222" stroke-width="1" fill="none"/>
<path d="M614 89.8h3" stroke="#111" stroke-width="0.9"/>
<path d="M614 101.5h3" stroke="#111" stroke-width="0.9"/>
<path d="M618.5 94.8 V105" stroke="#222" stroke-width="1" fill="none"/>
<path d="M617 94.8h3" stroke="#111" stroke-width="0.9"/>
<path d="M617 105h3" stroke="#111" stroke-width="0.9"/>
<path d="M622.5 90.7 V131.25" stroke="#222" stroke-width="1" fill="none"/>
<path d="M621 90.7h3" stroke="#111" stroke-width="0.9"/>
<path d="M625.5 97.3 V113.9" stroke="#222" stroke-width="1" fill="none"/>
<path d="M624 97.3h3" stroke="#111" stroke-width="0.9"/>
<path d="M624 113.9h3" stroke="#111" stroke-width="0.9"/>
<path d="M628.5 90.6 V131.25" stroke="#222" stroke-width="1" fill="none"/>
<path d="M627 90.6h3" stroke="#111" stroke-width="0.9"/>
<path d="M632.5 103.9 V131.25" stroke="#222" stroke-width="1" fill="none"/>
<path d="M631 103.9h3" stroke="#111" stroke-width="0.9"/>
<path d="M635.5 93.2 V131.25" stroke="#222" stroke-width="1" fill="none"/>
<path d="M634 93.2h3" stroke="#111" stroke-width="0.9"/>
<path d="M638.5 92.3 V100.6" stroke="#222" stroke-width="1" fill="none"/>
<path d="M637 92.3h3" stroke="#111" stroke-width="0.9"/>
<path d="M637 100.6h3" stroke="#111" stroke-width="0.9"/>
<path d="M642.5 86.5 V106.4" stroke="#222" stroke-width="1" fill="none"/>
<path d="M641 86.5h3" stroke="#111" stroke-width="0.9"/>
<path d="M641 106.4h3" stroke="#111" stroke-width="0.9"/>
<path d="M645.5 84 V88.2" stroke="#222" stroke-width="1" fill="none"/>
<path d="M644 84h3" stroke="#111" stroke-width="0.9"/>
<path d="M644 88.2h3" stroke="#111" stroke-width="0.9"/>
<path d="M685.5 74.1 V83.2" stroke="#222" stroke-width="1" fill="none"/>
<path d="M684 74.1h3" stroke="#111" stroke-width="0.9"/>
<path d="M684 83.2h3" stroke="#111" stroke-width="0.9"/>
<path d="M688.5 74.9 V108.9" stroke="#222" stroke-width="1" fill="none"/>
<path d="M687 74.9h3" stroke="#111" stroke-width="0.9"/>
<path d="M687 108.9h3" stroke="#111" stroke-width="0.9"/>
<path d="M692.5 80.7 V99.75" stroke="#222" stroke-width="1" fill="none"/>
<path d="M691 80.7h3" stroke="#111" stroke-width="0.9"/>
<path d="M691 99.75h3" stroke="#111" stroke-width="0.9"/>
<path d="M695.5 74.1 V131.25" stroke="#222" stroke-width="1" fill="none"/>
<path d="M694 74.1h3" stroke="#111" stroke-width="0.9"/>
<path d="M698.5 84.9 V131.25" stroke="#222" stroke-width="1" fill="none"/>
<path d="M697 84.9h3" stroke="#111" stroke-width="0.9"/>
<path d="M702.5 84.9 V94" stroke="#222" stroke-width="1" fill="none"/>
<path d="M701 84.9h3" stroke="#111" stroke-width="0.9"/>
<path d="M701 94h3" stroke="#111" stroke-width="0.9"/>
<path d="M705.5 66.9 V131.25" stroke="#222" stroke-width="1" fill="none"/>
<path d="M704 66.9h3" stroke="#111" stroke-width="0.9"/>
<path d="M709.5 49.5 V83" stroke="#222" stroke-width="1" fill="none"/>
<path d="M708 49.5h3" stroke="#111" stroke-width="0.9"/>
<path d="M708 83h3" stroke="#111" stroke-width="0.9"/>
<path d="M712.5 47 V90" stroke="#222" stroke-width="1" fill="none"/>
<path d="M711 47h3" stroke="#111" stroke-width="0.9"/>
<path d="M711 90h3" stroke="#111" stroke-width="0.9"/>
<path d="M715.5 28.1 V131.25" stroke="#222" stroke-width="1" fill="none"/>
<path d="M714 28.1h3" stroke="#111" stroke-width="0.9"/>
<path d="M719.5 61.3 V101.4" stroke="#222" stroke-width="1" fill="none"/>
<path d="M718 61.3h3" stroke="#111" stroke-width="0.9"/>
<path d="M718 101.4h3" stroke="#111" stroke-width="0.9"/>
<circle cx="395.14" cy="60.9" r="2.2" fill="#000"/>
<circle cx="398.48" cy="65.8" r="2.2" fill="#000"/>
<circle cx="401.82" cy="61.4" r="2.2" fill="#000"/>
<circle cx="405.16" cy="67.4" r="2.2" fill="#000"/>
<circle cx="408.49" cy="69.5" r="2.2" fill="#000"/>
<circle cx="411.83" cy="63" r="2.2" fill="#000"/>
<circle cx="415.17" cy="56.1" r="2.2" fill="#000"/>
<circle cx="418.51" cy="60.1" r="2.2" fill="#000"/>
<circle cx="421.85" cy="58" r="2.2" fill="#000"/>
<circle cx="425.19" cy="71.5" r="2.2" fill="#000"/>
<circle cx="428.53" cy="62.65" r="2.2" fill="#000"/>
<circle cx="431.87" cy="66.8" r="2.2" fill="#000"/>
<circle cx="435.21" cy="58" r="2.2" fill="#000"/>
<circle cx="438.55" cy="55.4" r="2.2" fill="#000"/>
<circle cx="441.88" cy="46.3" r="2.2" fill="#000"/>
<circle cx="445.22" cy="38.7" r="2.2" fill="#000"/>
<circle cx="448.56" cy="30.7" r="2.2" fill="#000"/>
<circle cx="451.9" cy="34.9" r="2.2" fill="#000"/>
<circle cx="455.24" cy="29.6" r="2.2" fill="#000"/>
<circle cx="458.58" cy="39.1" r="2.2" fill="#000"/>
<circle cx="461.92" cy="42.4" r="2.2" fill="#000"/>
<circle cx="465.26" cy="52.8" r="2.2" fill="#000"/>
<circle cx="468.6" cy="49.9" r="2.2" fill="#000"/>
<circle cx="471.94" cy="56" r="2.2" fill="#000"/>
<circle cx="475.27" cy="51.8" r="2.2" fill="#000"/>
<circle cx="478.61" cy="61.2" r="2.2" fill="#000"/>
<circle cx="481.95" cy="58" r="2.2" fill="#000"/>
<circle cx="485.29" cy="62.4" r="2.2" fill="#000"/>
<circle cx="488.63" cy="62.1" r="2.2" fill="#000"/>
<circle cx="491.97" cy="67.6" r="2.2" fill="#000"/>
<circle cx="495.31" cy="74.2" r="2.2" fill="#000"/>
<circle cx="498.65" cy="73.4" r="2.2" fill="#000"/>
<circle cx="501.99" cy="68.9" r="2.2" fill="#000"/>
<circle cx="505.33" cy="77.5" r="2.2" fill="#000"/>
<circle cx="508.66" cy="77.9" r="2.2" fill="#000"/>
<circle cx="512" cy="84.6" r="2.2" fill="#000"/>
<circle cx="515.34" cy="81.3" r="2.2" fill="#000"/>
<circle cx="518.68" cy="85.5" r="2.2" fill="#000"/>
<circle cx="522.02" cy="79.2" r="2.2" fill="#000"/>
<circle cx="525.36" cy="80.3" r="2.2" fill="#000"/>
<circle cx="528.7" cy="76.7" r="2.2" fill="#000"/>
<circle cx="532.04" cy="78.8" r="2.2" fill="#000"/>
<circle cx="535.38" cy="76.3" r="2.2" fill="#000"/>
<circle cx="538.72" cy="80" r="2.2" fill="#000"/>
<circle cx="542.05" cy="76.7" r="2.2" fill="#000"/>
<circle cx="545.39" cy="79.7" r="2.2" fill="#000"/>
<circle cx="548.73" cy="75.9" r="2.2" fill="#000"/>
<circle cx="552.07" cy="76.7" r="2.2" fill="#000"/>
<circle cx="555.41" cy="73" r="2.2" fill="#000"/>
<circle cx="558.75" cy="73" r="2.2" fill="#000"/>
<circle cx="562.09" cy="70.4" r="2.2" fill="#000"/>
<circle cx="565.43" cy="69.2" r="2.2" fill="#000"/>
<circle cx="568.77" cy="68.2" r="2.2" fill="#000"/>
<circle cx="572.11" cy="71.7" r="2.2" fill="#000"/>
<circle cx="575.44" cy="72.9" r="2.2" fill="#000"/>
<circle cx="578.78" cy="77.2" r="2.2" fill="#000"/>
<circle cx="582.12" cy="78.3" r="2.2" fill="#000"/>
<circle cx="585.46" cy="83.3" r="2.2" fill="#000"/>
<circle cx="588.8" cy="82.8" r="2.2" fill="#000"/>
<circle cx="592.14" cy="86.1" r="2.2" fill="#000"/>
<circle cx="595.48" cy="82.1" r="2.2" fill="#000"/>
<circle cx="598.82" cy="85.4" r="2.2" fill="#000"/>
<circle cx="602.16" cy="82" r="2.2" fill="#000"/>
<circle cx="605.5" cy="85.3" r="2.2" fill="#000"/>
<circle cx="608.83" cy="86.1" r="2.2" fill="#000"/>
<circle cx="612.17" cy="89.4" r="2.2" fill="#000"/>
<circle cx="615.51" cy="91.9" r="2.2" fill="#000"/>
<circle cx="618.85" cy="97.2" r="2.2" fill="#000"/>
<circle cx="622.19" cy="96.4" r="2.2" fill="#000"/>
<circle cx="625.53" cy="100.5" r="2.2" fill="#000"/>
<circle cx="628.87" cy="97.2" r="2.2" fill="#000"/>
<circle cx="632.21" cy="107.6" r="2.2" fill="#000"/>
<circle cx="635.55" cy="100.5" r="2.2" fill="#000"/>
<circle cx="638.88" cy="95.7" r="2.2" fill="#000"/>
<circle cx="642.22" cy="89.1" r="2.2" fill="#000"/>
<circle cx="645.56" cy="85.4" r="2.2" fill="#000"/>
<circle cx="648.9" cy="74" r="2.2" fill="#000"/>
<circle cx="652.24" cy="68.2" r="2.2" fill="#000"/>
<circle cx="655.58" cy="62.9" r="2.2" fill="#000"/>
<circle cx="658.92" cy="57.3" r="2.2" fill="#000"/>
<circle cx="662.26" cy="54.2" r="2.2" fill="#000"/>
<circle cx="665.6" cy="49.6" r="2.2" fill="#000"/>
<circle cx="668.94" cy="48.7" r="2.2" fill="#000"/>
<circle cx="672.27" cy="47.9" r="2.2" fill="#000"/>
<circle cx="675.61" cy="53.4" r="2.2" fill="#000"/>
<circle cx="678.95" cy="59.4" r="2.2" fill="#000"/>
<circle cx="682.29" cy="70.2" r="2.2" fill="#000"/>
<circle cx="685.63" cy="78.6" r="2.2" fill="#000"/>
<circle cx="688.97" cy="84.5" r="2.2" fill="#000"/>
<circle cx="692.31" cy="87.8" r="2.2" fill="#000"/>
<circle cx="695.65" cy="88.2" r="2.2" fill="#000"/>
<circle cx="698.99" cy="117.6" r="2.2" fill="#000"/>
<circle cx="702.33" cy="87.8" r="2.2" fill="#000"/>
<circle cx="705.67" cy="78.6" r="2.2" fill="#000"/>
<circle cx="709" cy="59.4" r="2.2" fill="#000"/>
<circle cx="712.34" cy="64.1" r="2.2" fill="#000"/>
<circle cx="719.02" cy="78.6" r="2.2" fill="#000"/>
</g>
<g clip-path="url(#cbl)">
<path d="M44.01 216.3 L52.52 227.8 L61.03 203.8 L69.54 219.5 L78.05 193.3 L86.56 203.5 L95.07 189.6 L103.58 201 L112.09 189.4 L120.6 202.7 L129.11 196.8 L137.62 208.5 L146.13 199.3 L154.64 204.3 L163.15 193.1 L164 270.8 L179.32 270.8 L180.17 199.3 L188.68 208.5 L197.19 202 L205.7 219.3 L214.21 213 L222.72 221 L231.23 212.5 L239.74 226 L248.25 212 L256.76 230 L265.27 216 L273.78 226.1 L282.29 211.8 L290.8 227 L299.31 193.2 L307.82 198.5 L316.33 184.9 L324.84 196.9 L333.35 205 L341.86 218.6 L350.37 192.5 L358.88 204.3 L359.73 270.8 L359.73 270 L358.88 225 L350.37 219.5 L341.86 251.8 L333.35 218.6 L324.84 226.1 L316.33 201 L307.82 236.9 L299.31 235.2 L290.8 247.6 L282.29 227.75 L273.78 234.4 L265.27 225.5 L256.76 239.4 L248.25 218.6 L239.74 232.7 L231.23 216 L222.72 226 L214.21 215.3 L205.7 231.9 L197.19 210 L188.68 212.6 L180.17 206 L179.32 270 L164 270 L163.15 201 L154.64 213.5 L146.13 207.7 L137.62 216 L129.11 205.2 L120.6 214.3 L112.09 199.4 L103.58 212.6 L95.07 199.4 L86.56 216 L78.05 207.7 L69.54 235.3 L61.03 221.3 L52.52 245.3 L44.01 234.3Z" fill="rgb(0,191,191)" fill-opacity="0.7" stroke="rgb(0,120,120)" stroke-opacity="0.75" stroke-width="0.7" stroke-linejoin="miter"/>
<path d="M44.01 215.5 L52.52 227 L61.03 205.2 L69.54 222 L78.05 194.4 L86.56 202.7 L95.07 190.6 L103.58 200.2 L112.09 188.6 L120.6 201.9 L129.11 196 L137.62 207.7 L146.13 198.5 L154.64 203.5 L163.15 192.3 L164 270 L179.32 270 L180.17 198.5 L188.68 207.7 L197.19 202.7 L205.7 221.1 L214.21 210.5 L222.72 219.5 L231.23 210 L239.74 224.4 L248.25 209.3 L256.76 227.8 L265.27 214 L273.78 227.75 L282.29 216 L290.8 229.4 L299.31 207.7 L307.82 210 L316.33 186 L324.84 190.2 L333.35 202.7 L341.86 222.8 L350.37 191.9 L358.88 206 L359.73 270 L359.73 270 L358.88 227.75 L350.37 222 L341.86 270 L333.35 216.4 L324.84 209.3 L316.33 200.2 L307.82 239.4 L299.31 236.9 L290.8 252.6 L282.29 230.2 L273.78 238.5 L265.27 228.2 L256.76 244.3 L248.25 222 L239.74 236.9 L231.23 219.5 L222.72 229.4 L214.21 219.5 L205.7 236 L197.19 215 L188.68 219.3 L180.17 213.5 L179.32 270 L164 270 L163.15 203.5 L154.64 215.6 L146.13 210.1 L137.62 220.3 L129.11 207.7 L120.6 218.4 L112.09 193.6 L103.58 217.6 L95.07 201.9 L86.56 219.3 L78.05 210.1 L69.54 236 L61.03 222 L52.52 246 L44.01 235Z" fill="rgb(255,80,80)" fill-opacity="0.745" stroke="rgb(255,80,80)" stroke-opacity="0.745" stroke-width="0.9" stroke-linejoin="miter"/>
<path d="M163.15 192.3 L164 259.25" stroke="rgb(235,40,40)" stroke-opacity="0.75" stroke-width="1.1" fill="none"/>
<path d="M180.17 198.5 L179.32 259.25" stroke="rgb(235,40,40)" stroke-opacity="0.75" stroke-width="1.1" fill="none"/>
<path d="M358.88 206 L359.73 259.25" stroke="rgb(235,40,40)" stroke-opacity="0.75" stroke-width="1.1" fill="none"/>
<path d="M129.5 194.4 V210.1" stroke="#222" stroke-width="1" fill="none"/>
<path d="M128 194.4h3" stroke="#111" stroke-width="0.9"/>
<path d="M128 210.1h3" stroke="#111" stroke-width="0.9"/>
<path d="M137.5 210.5 V234.4" stroke="#222" stroke-width="1" fill="none"/>
<path d="M136 210.5h3" stroke="#111" stroke-width="0.9"/>
<path d="M136 234.4h3" stroke="#111" stroke-width="0.9"/>
<path d="M146.5 205.2 V224.9" stroke="#222" stroke-width="1" fill="none"/>
<path d="M145 205.2h3" stroke="#111" stroke-width="0.9"/>
<path d="M145 224.9h3" stroke="#111" stroke-width="0.9"/>
<path d="M154.5 212 V224.4" stroke="#222" stroke-width="1" fill="none"/>
<path d="M153 212h3" stroke="#111" stroke-width="0.9"/>
<path d="M153 224.4h3" stroke="#111" stroke-width="0.9"/>
<path d="M239.5 227 V231" stroke="#222" stroke-width="1" fill="none"/>
<path d="M238 227h3" stroke="#111" stroke-width="0.9"/>
<path d="M238 231h3" stroke="#111" stroke-width="0.9"/>
<path d="M256.5 228 V236" stroke="#222" stroke-width="1" fill="none"/>
<path d="M255 228h3" stroke="#111" stroke-width="0.9"/>
<path d="M255 236h3" stroke="#111" stroke-width="0.9"/>
<path d="M273.5 236.9 V248.5" stroke="#222" stroke-width="1" fill="none"/>
<path d="M272 236.9h3" stroke="#111" stroke-width="0.9"/>
<path d="M272 248.5h3" stroke="#111" stroke-width="0.9"/>
<path d="M282.5 222 V230.2" stroke="#222" stroke-width="1" fill="none"/>
<path d="M281 222h3" stroke="#111" stroke-width="0.9"/>
<path d="M281 230.2h3" stroke="#111" stroke-width="0.9"/>
<path d="M333.5 211.8 V217.6" stroke="#222" stroke-width="1" fill="none"/>
<path d="M332 211.8h3" stroke="#111" stroke-width="0.9"/>
<path d="M332 217.6h3" stroke="#111" stroke-width="0.9"/>
<path d="M341.5 217.6 V251" stroke="#222" stroke-width="1" fill="none"/>
<path d="M340 217.6h3" stroke="#111" stroke-width="0.9"/>
<path d="M340 251h3" stroke="#111" stroke-width="0.9"/>
<path d="M350.5 190.6 V216.8" stroke="#222" stroke-width="1" fill="none"/>
<path d="M349 190.6h3" stroke="#111" stroke-width="0.9"/>
<path d="M349 216.8h3" stroke="#111" stroke-width="0.9"/>
<path d="M358.5 214.6 V240.2" stroke="#222" stroke-width="1" fill="none"/>
<path d="M357 214.6h3" stroke="#111" stroke-width="0.9"/>
<path d="M357 240.2h3" stroke="#111" stroke-width="0.9"/>
<circle cx="44.11" cy="201.3" r="2.2" fill="#000"/>
<circle cx="52.62" cy="206.7" r="2.2" fill="#000"/>
<circle cx="61.13" cy="201.3" r="2.2" fill="#000"/>
<circle cx="69.64" cy="218.1" r="2.2" fill="#000"/>
<circle cx="78.15" cy="196.8" r="2.2" fill="#000"/>
<circle cx="86.66" cy="212.9" r="2.2" fill="#000"/>
<circle cx="95.17" cy="185.5" r="2.2" fill="#000"/>
<circle cx="103.68" cy="199.3" r="2.2" fill="#000"/>
<circle cx="112.19" cy="186.8" r="2.2" fill="#000"/>
<circle cx="120.7" cy="208.7" r="2.2" fill="#000"/>
<circle cx="129.21" cy="202.1" r="2.2" fill="#000"/>
<circle cx="137.72" cy="215.3" r="2.2" fill="#000"/>
<circle cx="146.23" cy="211.4" r="2.2" fill="#000"/>
<circle cx="154.74" cy="218" r="2.2" fill="#000"/>
<circle cx="163.25" cy="207.1" r="2.2" fill="#000"/>
<circle cx="180.27" cy="213.5" r="2.2" fill="#000"/>
<circle cx="188.78" cy="219.7" r="2.2" fill="#000"/>
<circle cx="197.29" cy="209.2" r="2.2" fill="#000"/>
<circle cx="205.8" cy="223.8" r="2.2" fill="#000"/>
<circle cx="214.31" cy="207.1" r="2.2" fill="#000"/>
<circle cx="222.82" cy="220.2" r="2.2" fill="#000"/>
<circle cx="231.33" cy="212" r="2.2" fill="#000"/>
<circle cx="239.84" cy="228.8" r="2.2" fill="#000"/>
<circle cx="248.35" cy="214.3" r="2.2" fill="#000"/>
<circle cx="256.86" cy="229.8" r="2.2" fill="#000"/>
<circle cx="265.37" cy="222.7" r="2.2" fill="#000"/>
<circle cx="273.88" cy="239.6" r="2.2" fill="#000"/>
<circle cx="282.39" cy="224.3" r="2.2" fill="#000"/>
<circle cx="290.9" cy="226" r="2.2" fill="#000"/>
<circle cx="299.41" cy="202.2" r="2.2" fill="#000"/>
<circle cx="307.92" cy="202.2" r="2.2" fill="#000"/>
<circle cx="316.43" cy="195.6" r="2.2" fill="#000"/>
<circle cx="324.94" cy="213" r="2.2" fill="#000"/>
<circle cx="333.45" cy="214.4" r="2.2" fill="#000"/>
<circle cx="341.96" cy="224.8" r="2.2" fill="#000"/>
<circle cx="350.47" cy="207.6" r="2.2" fill="#000"/>
<circle cx="358.98" cy="225.2" r="2.2" fill="#000"/>
</g>
<g clip-path="url(#cbr)">
<path d="M410.81 270.8 L412.5 250.9 L421 258.3 L429.5 230.2 L438 270.8 L446.5 192.7 L454.99 208.5 L463.49 178.6 L471.99 193.5 L480.49 182.8 L488.98 205.1 L497.48 210.1 L505.98 217.6 L514.48 209.8 L515.32 270.8 L530.62 270.8 L531.47 212.8 L539.97 218.8 L548.47 209 L556.96 228.55 L565.46 209 L573.96 221.8 L582.46 209.3 L590.95 226 L599.45 212.5 L607.95 227.75 L616.45 216 L624.94 227 L633.44 211 L641.94 223.5 L650.43 193.6 L658.93 198.5 L667.43 185 L675.93 199.4 L684.42 194.4 L692.92 218.6 L701.42 193.5 L709.92 203.5 L710.77 270.8 L710.77 270 L709.92 229.4 L701.42 222 L692.92 253.5 L684.42 216 L675.93 226.5 L667.43 207 L658.93 236.9 L650.43 233.6 L641.94 242.7 L633.44 226.3 L624.94 235.5 L616.45 228 L607.95 247.7 L599.45 226 L590.95 239.4 L582.46 225.3 L573.96 246.8 L565.46 236 L556.96 251 L548.47 236.9 L539.97 250.1 L531.47 238.5 L530.62 270 L515.32 270 L514.48 230.2 L505.98 237 L497.48 227.5 L488.98 231.9 L480.49 195.2 L471.99 199.4 L463.49 188.6 L454.99 229.4 L446.5 220.5 L442.25 270 L438 270 L429.5 252.5 L421 270 L410.81 270Z" fill="rgb(0,191,191)" fill-opacity="0.7" stroke="rgb(0,120,120)" stroke-opacity="0.75" stroke-width="0.7" stroke-linejoin="miter"/>
<path d="M410.81 270 L412.5 250.1 L421 257.5 L429.5 229.4 L438 270 L446.5 191.9 L454.99 207.7 L463.49 177.8 L471.99 194.4 L480.49 183.6 L488.98 204.3 L497.48 209.3 L505.98 216.8 L514.48 211 L515.32 270 L530.62 270 L531.47 213.5 L539.97 219.5 L548.47 210 L556.96 227.75 L565.46 210 L573.96 221 L582.46 208.5 L590.95 222.8 L599.45 208.8 L607.95 220.3 L616.45 211.8 L624.94 225.3 L633.44 214.6 L641.94 224.4 L650.43 207.7 L658.93 211.8 L667.43 185.3 L675.93 189.4 L684.42 192.7 L692.92 222.8 L701.42 192.7 L709.92 206 L710.77 270 L710.77 270 L709.92 231.9 L701.42 226.1 L692.92 270 L684.42 215.3 L675.93 225.3 L667.43 205.2 L658.93 238.5 L650.43 240.2 L641.94 246.8 L633.44 227.75 L624.94 236.9 L616.45 228.6 L607.95 247.7 L599.45 225.3 L590.95 238.5 L582.46 222 L573.96 235.2 L565.46 228.6 L556.96 250.1 L548.47 230.2 L539.97 243.5 L531.47 236.9 L530.62 270 L515.32 270 L514.48 232.7 L505.98 233.6 L497.48 225.3 L488.98 235.2 L480.49 214.4 L471.99 217.7 L463.49 196 L454.99 228.6 L446.5 219.5 L442.25 270 L438 270 L429.5 251.8 L421 270 L410.81 270Z" fill="rgb(255,80,80)" fill-opacity="0.745" stroke="rgb(255,80,80)" stroke-opacity="0.745" stroke-width="0.9" stroke-linejoin="miter"/>
<path d="M412.5 250.1 L410.81 259.25" stroke="rgb(235,40,40)" stroke-opacity="0.75" stroke-width="1.1" fill="none"/>
<path d="M514.48 211 L515.32 259.25" stroke="rgb(235,40,40)" stroke-opacity="0.75" stroke-width="1.1" fill="none"/>
<path d="M531.47 213.5 L530.62 259.25" stroke="rgb(235,40,40)" stroke-opacity="0.75" stroke-width="1.1" fill="none"/>
<path d="M709.92 206 L710.77 259.25" stroke="rgb(235,40,40)" stroke-opacity="0.75" stroke-width="1.1" fill="none"/>
<path d="M480.5 194.4 V210.1" stroke="#222" stroke-width="1" fill="none"/>
<path d="M479 194.4h3" stroke="#111" stroke-width="0.9"/>
<path d="M479 210.1h3" stroke="#111" stroke-width="0.9"/>
<path d="M489.5 210.5 V234.4" stroke="#222" stroke-width="1" fill="none"/>
<path d="M488 210.5h3" stroke="#111" stroke-width="0.9"/>
<path d="M488 234.4h3" stroke="#111" stroke-width="0.9"/>
<path d="M497.5 205.2 V224.9" stroke="#222" stroke-width="1" fill="none"/>
<path d="M496 205.2h3" stroke="#111" stroke-width="0.9"/>
<path d="M496 224.9h3" stroke="#111" stroke-width="0.9"/>
<path d="M506.5 212 V224.4" stroke="#222" stroke-width="1" fill="none"/>
<path d="M505 212h3" stroke="#111" stroke-width="0.9"/>
<path d="M505 224.4h3" stroke="#111" stroke-width="0.9"/>
<path d="M591.5 227 V231" stroke="#222" stroke-width="1" fill="none"/>
<path d="M590 227h3" stroke="#111" stroke-width="0.9"/>
<path d="M590 231h3" stroke="#111" stroke-width="0.9"/>
<path d="M608.5 228 V236" stroke="#222" stroke-width="1" fill="none"/>
<path d="M607 228h3" stroke="#111" stroke-width="0.9"/>
<path d="M607 236h3" stroke="#111" stroke-width="0.9"/>
<path d="M625.5 236.9 V248.5" stroke="#222" stroke-width="1" fill="none"/>
<path d="M624 236.9h3" stroke="#111" stroke-width="0.9"/>
<path d="M624 248.5h3" stroke="#111" stroke-width="0.9"/>
<path d="M633.5 222 V230.2" stroke="#222" stroke-width="1" fill="none"/>
<path d="M632 222h3" stroke="#111" stroke-width="0.9"/>
<path d="M632 230.2h3" stroke="#111" stroke-width="0.9"/>
<path d="M684.5 211.8 V217.6" stroke="#222" stroke-width="1" fill="none"/>
<path d="M683 211.8h3" stroke="#111" stroke-width="0.9"/>
<path d="M683 217.6h3" stroke="#111" stroke-width="0.9"/>
<path d="M693.5 217.6 V251" stroke="#222" stroke-width="1" fill="none"/>
<path d="M692 217.6h3" stroke="#111" stroke-width="0.9"/>
<path d="M692 251h3" stroke="#111" stroke-width="0.9"/>
<path d="M701.5 190.6 V216.8" stroke="#222" stroke-width="1" fill="none"/>
<path d="M700 190.6h3" stroke="#111" stroke-width="0.9"/>
<path d="M700 216.8h3" stroke="#111" stroke-width="0.9"/>
<path d="M710.5 214.6 V240.2" stroke="#222" stroke-width="1" fill="none"/>
<path d="M709 214.6h3" stroke="#111" stroke-width="0.9"/>
<path d="M709 240.2h3" stroke="#111" stroke-width="0.9"/>
<circle cx="395.61" cy="201.3" r="2.2" fill="#000"/>
<circle cx="404.11" cy="206.7" r="2.2" fill="#000"/>
<circle cx="412.61" cy="201.3" r="2.2" fill="#000"/>
<circle cx="421.1" cy="218.1" r="2.2" fill="#000"/>
<circle cx="429.6" cy="196.8" r="2.2" fill="#000"/>
<circle cx="438.1" cy="212.9" r="2.2" fill="#000"/>
<circle cx="446.6" cy="185.5" r="2.2" fill="#000"/>
<circle cx="455.09" cy="199.3" r="2.2" fill="#000"/>
<circle cx="463.59" cy="186.8" r="2.2" fill="#000"/>
<circle cx="472.09" cy="208.7" r="2.2" fill="#000"/>
<circle cx="480.59" cy="202.1" r="2.2" fill="#000"/>
<circle cx="489.08" cy="215.3" r="2.2" fill="#000"/>
<circle cx="497.58" cy="211.4" r="2.2" fill="#000"/>
<circle cx="506.08" cy="218" r="2.2" fill="#000"/>
<circle cx="514.58" cy="207.1" r="2.2" fill="#000"/>
<circle cx="531.57" cy="213.5" r="2.2" fill="#000"/>
<circle cx="540.07" cy="219.7" r="2.2" fill="#000"/>
<circle cx="548.57" cy="209.2" r="2.2" fill="#000"/>
<circle cx="557.06" cy="223.8" r="2.2" fill="#000"/>
<circle cx="565.56" cy="207.1" r="2.2" fill="#000"/>
<circle cx="574.06" cy="220.2" r="2.2" fill="#000"/>
<circle cx="582.56" cy="212" r="2.2" fill="#000"/>
<circle cx="591.05" cy="228.8" r="2.2" fill="#000"/>
<circle cx="599.55" cy="214.3" r="2.2" fill="#000"/>
<circle cx="608.05" cy="229.8" r="2.2" fill="#000"/>
<circle cx="616.55" cy="222.7" r="2.2" fill="#000"/>
<circle cx="625.04" cy="239.6" r="2.2" fill="#000"/>
<circle cx="633.54" cy="224.3" r="2.2" fill="#000"/>
<circle cx="642.04" cy="226" r="2.2" fill="#000"/>
<circle cx="650.53" cy="202.2" r="2.2" fill="#000"/>
<circle cx="659.03" cy="202.2" r="2.2" fill="#000"/>
<circle cx="667.53" cy="195.6" r="2.2" fill="#000"/>
<circle cx="676.03" cy="213" r="2.2" fill="#000"/>
<circle cx="684.52" cy="214.4" r="2.2" fill="#000"/>
<circle cx="693.02" cy="224.8" r="2.2" fill="#000"/>
<circle cx="701.52" cy="207.6" r="2.2" fill="#000"/>
<circle cx="710.02" cy="225.2" r="2.2" fill="#000"/>
</g>
<path d="M47.08 131.25v-1.35 M47.08 0.55v1.35 M50.42 131.25v-1.35 M50.42 0.55v1.35 M53.76 131.25v-1.35 M53.76 0.55v1.35 M57.09 131.25v-1.35 M57.09 0.55v1.35 M60.43 131.25v-1.35 M60.43 0.55v1.35 M63.77 131.25v-1.35 M63.77 0.55v1.35 M67.11 131.25v-1.35 M67.11 0.55v1.35 M70.45 131.25v-3.1 M70.45 0.55v3.1 M73.79 131.25v-1.35 M73.79 0.55v1.35 M77.13 131.25v-1.35 M77.13 0.55v1.35 M80.47 131.25v-1.35 M80.47 0.55v1.35 M83.81 131.25v-1.35 M83.81 0.55v1.35 M87.15 131.25v-1.35 M87.15 0.55v1.35 M90.48 131.25v-1.35 M90.48 0.55v1.35 M93.82 131.25v-1.35 M93.82 0.55v1.35 M97.16 131.25v-1.35 M97.16 0.55v1.35 M100.5 131.25v-1.35 M100.5 0.55v1.35 M103.84 131.25v-1.35 M103.84 0.55v1.35 M107.18 131.25v-1.35 M107.18 0.55v1.35 M110.52 131.25v-1.35 M110.52 0.55v1.35 M113.86 131.25v-1.35 M113.86 0.55v1.35 M117.2 131.25v-1.35 M117.2 0.55v1.35 M120.53 131.25v-1.35 M120.53 0.55v1.35 M123.87 131.25v-1.35 M123.87 0.55v1.35 M127.21 131.25v-1.35 M127.21 0.55v1.35 M130.55 131.25v-1.35 M130.55 0.55v1.35 M133.89 131.25v-1.35 M133.89 0.55v1.35 M137.23 131.25v-3.1 M137.23 0.55v3.1 M140.57 131.25v-1.35 M140.57 0.55v1.35 M143.91 131.25v-1.35 M143.91 0.55v1.35 M147.25 131.25v-1.35 M147.25 0.55v1.35 M150.59 131.25v-1.35 M150.59 0.55v1.35 M153.93 131.25v-1.35 M153.93 0.55v1.35 M157.26 131.25v-1.35 M157.26 0.55v1.35 M160.6 131.25v-1.35 M160.6 0.55v1.35 M163.94 131.25v-1.35 M163.94 0.55v1.35 M167.28 131.25v-1.35 M167.28 0.55v1.35 M170.62 131.25v-1.35 M170.62 0.55v1.35 M173.96 131.25v-1.35 M173.96 0.55v1.35 M177.3 131.25v-1.35 M177.3 0.55v1.35 M180.64 131.25v-1.35 M180.64 0.55v1.35 M183.98 131.25v-1.35 M183.98 0.55v1.35 M187.31 131.25v-1.35 M187.31 0.55v1.35 M190.65 131.25v-1.35 M190.65 0.55v1.35 M193.99 131.25v-1.35 M193.99 0.55v1.35 M197.33 131.25v-1.35 M197.33 0.55v1.35 M200.67 131.25v-1.35 M200.67 0.55v1.35 M204.01 131.25v-3.1 M204.01 0.55v3.1 M207.35 131.25v-1.35 M207.35 0.55v1.35 M210.69 131.25v-1.35 M210.69 0.55v1.35 M214.03 131.25v-1.35 M214.03 0.55v1.35 M217.37 131.25v-1.35 M217.37 0.55v1.35 M220.7 131.25v-1.35 M220.7 0.55v1.35 M224.04 131.25v-1.35 M224.04 0.55v1.35 M227.38 131.25v-1.35 M227.38 0.55v1.35 M230.72 131.25v-1.35 M230.72 0.55v1.35 M234.06 131.25v-1.35 M234.06 0.55v1.35 M237.4 131.25v-1.35 M237.4 0.55v1.35 M240.74 131.25v-1.35 M240.74 0.55v1.35 M244.08 131.25v-1.35 M244.08 0.55v1.35 M247.42 131.25v-1.35 M247.42 0.55v1.35 M250.76 131.25v-1.35 M250.76 0.55v1.35 M254.1 131.25v-1.35 M254.1 0.55v1.35 M257.43 131.25v-1.35 M257.43 0.55v1.35 M260.77 131.25v-1.35 M260.77 0.55v1.35 M264.11 131.25v-1.35 M264.11 0.55v1.35 M267.45 131.25v-1.35 M267.45 0.55v1.35 M270.79 131.25v-3.1 M270.79 0.55v3.1 M274.13 131.25v-1.35 M274.13 0.55v1.35 M277.47 131.25v-1.35 M277.47 0.55v1.35 M280.81 131.25v-1.35 M280.81 0.55v1.35 M284.15 131.25v-1.35 M284.15 0.55v1.35 M287.49 131.25v-1.35 M287.49 0.55v1.35 M290.82 131.25v-1.35 M290.82 0.55v1.35 M294.16 131.25v-1.35 M294.16 0.55v1.35 M297.5 131.25v-1.35 M297.5 0.55v1.35 M300.84 131.25v-1.35 M300.84 0.55v1.35 M304.18 131.25v-1.35 M304.18 0.55v1.35 M307.52 131.25v-1.35 M307.52 0.55v1.35 M310.86 131.25v-1.35 M310.86 0.55v1.35 M314.2 131.25v-1.35 M314.2 0.55v1.35 M317.54 131.25v-1.35 M317.54 0.55v1.35 M320.88 131.25v-1.35 M320.88 0.55v1.35 M324.21 131.25v-1.35 M324.21 0.55v1.35 M327.55 131.25v-1.35 M327.55 0.55v1.35 M330.89 131.25v-1.35 M330.89 0.55v1.35 M334.23 131.25v-1.35 M334.23 0.55v1.35 M337.57 131.25v-3.1 M337.57 0.55v3.1 M340.91 131.25v-1.35 M340.91 0.55v1.35 M344.25 131.25v-1.35 M344.25 0.55v1.35 M347.59 131.25v-1.35 M347.59 0.55v1.35 M350.93 131.25v-1.35 M350.93 0.55v1.35 M354.26 131.25v-1.35 M354.26 0.55v1.35 M357.6 131.25v-1.35 M357.6 0.55v1.35 M360.94 131.25v-1.35 M360.94 0.55v1.35 M364.28 131.25v-1.35 M364.28 0.55v1.35 M367.62 131.25v-1.35 M367.62 0.55v1.35 M370.96 131.25v-1.35 M370.96 0.55v1.35 M374.3 131.25v-1.35 M374.3 0.55v1.35 M377.64 131.25v-1.35 M377.64 0.55v1.35 M380.98 131.25v-1.35 M380.98 0.55v1.35 M44 128.66h1.6 M384.4 128.66h-1.6 M44 126.48h1.6 M384.4 126.48h-1.6 M44 124.58h1.6 M384.4 124.58h-1.6 M44 122.91h1.6 M384.4 122.91h-1.6 M44 121.41h3.1 M384.4 121.41h-3.1 M44 111.58h1.6 M384.4 111.58h-1.6 M44 105.82h1.6 M384.4 105.82h-1.6 M44 101.74h1.6 M384.4 101.74h-1.6 M44 98.58h1.6 M384.4 98.58h-1.6 M44 95.99h1.6 M384.4 95.99h-1.6 M44 93.8h1.6 M384.4 93.8h-1.6 M44 91.91h1.6 M384.4 91.91h-1.6 M44 90.23h1.6 M384.4 90.23h-1.6 M44 88.74h3.1 M384.4 88.74h-3.1 M44 78.9h1.6 M384.4 78.9h-1.6 M44 73.15h1.6 M384.4 73.15h-1.6 M44 69.07h1.6 M384.4 69.07h-1.6 M44 65.9h1.6 M384.4 65.9h-1.6 M44 63.31h1.6 M384.4 63.31h-1.6 M44 61.13h1.6 M384.4 61.13h-1.6 M44 59.23h1.6 M384.4 59.23h-1.6 M44 57.56h1.6 M384.4 57.56h-1.6 M44 56.06h3.1 M384.4 56.06h-3.1 M44 46.23h1.6 M384.4 46.23h-1.6 M44 40.47h1.6 M384.4 40.47h-1.6 M44 36.39h1.6 M384.4 36.39h-1.6 M44 33.23h1.6 M384.4 33.23h-1.6 M44 30.64h1.6 M384.4 30.64h-1.6 M44 28.45h1.6 M384.4 28.45h-1.6 M44 26.56h1.6 M384.4 26.56h-1.6 M44 24.88h1.6 M384.4 24.88h-1.6 M44 23.39h3.1 M384.4 23.39h-3.1 M44 13.55h1.6 M384.4 13.55h-1.6 M44 7.8h1.6 M384.4 7.8h-1.6 M44 3.72h1.6 M384.4 3.72h-1.6" stroke="#333" stroke-width="0.6" fill="none"/>
<rect x="44" y="0.55" width="340.4" height="130.7" fill="none" stroke="#262626" stroke-width="1.05"/>
<text x="70.65" y="142.65" text-anchor="middle" class="tk">120</text>
<text x="137.43" y="142.65" text-anchor="middle" class="tk">140</text>
<text x="204.21" y="142.65" text-anchor="middle" class="tk">160</text>
<text x="270.99" y="142.65" text-anchor="middle" class="tk">180</text>
<text x="337.77" y="142.65" text-anchor="middle" class="tk">200</text>
<text x="16.7" y="26.79" class="tk">10<tspan dy="-5.7" dx="0.5" font-size="8.2">-3</tspan></text>
<text x="16.7" y="59.66" class="tk">10<tspan dy="-5.7" dx="0.5" font-size="8.2">-4</tspan></text>
<text x="16.7" y="92.54" class="tk">10<tspan dy="-5.7" dx="0.5" font-size="8.2">-5</tspan></text>
<text x="16.7" y="125.41" class="tk">10<tspan dy="-5.7" dx="0.5" font-size="8.2">-6</tspan></text>
<path d="M398.38 131.25v-1.35 M398.38 0.55v1.35 M401.72 131.25v-1.35 M401.72 0.55v1.35 M405.06 131.25v-1.35 M405.06 0.55v1.35 M408.39 131.25v-1.35 M408.39 0.55v1.35 M411.73 131.25v-1.35 M411.73 0.55v1.35 M415.07 131.25v-1.35 M415.07 0.55v1.35 M418.41 131.25v-1.35 M418.41 0.55v1.35 M421.75 131.25v-3.1 M421.75 0.55v3.1 M425.09 131.25v-1.35 M425.09 0.55v1.35 M428.43 131.25v-1.35 M428.43 0.55v1.35 M431.77 131.25v-1.35 M431.77 0.55v1.35 M435.11 131.25v-1.35 M435.11 0.55v1.35 M438.44 131.25v-1.35 M438.44 0.55v1.35 M441.78 131.25v-1.35 M441.78 0.55v1.35 M445.12 131.25v-1.35 M445.12 0.55v1.35 M448.46 131.25v-1.35 M448.46 0.55v1.35 M451.8 131.25v-1.35 M451.8 0.55v1.35 M455.14 131.25v-1.35 M455.14 0.55v1.35 M458.48 131.25v-1.35 M458.48 0.55v1.35 M461.82 131.25v-1.35 M461.82 0.55v1.35 M465.16 131.25v-1.35 M465.16 0.55v1.35 M468.5 131.25v-1.35 M468.5 0.55v1.35 M471.83 131.25v-1.35 M471.83 0.55v1.35 M475.17 131.25v-1.35 M475.17 0.55v1.35 M478.51 131.25v-1.35 M478.51 0.55v1.35 M481.85 131.25v-1.35 M481.85 0.55v1.35 M485.19 131.25v-1.35 M485.19 0.55v1.35 M488.53 131.25v-3.1 M488.53 0.55v3.1 M491.87 131.25v-1.35 M491.87 0.55v1.35 M495.21 131.25v-1.35 M495.21 0.55v1.35 M498.55 131.25v-1.35 M498.55 0.55v1.35 M501.89 131.25v-1.35 M501.89 0.55v1.35 M505.23 131.25v-1.35 M505.23 0.55v1.35 M508.56 131.25v-1.35 M508.56 0.55v1.35 M511.9 131.25v-1.35 M511.9 0.55v1.35 M515.24 131.25v-1.35 M515.24 0.55v1.35 M518.58 131.25v-1.35 M518.58 0.55v1.35 M521.92 131.25v-1.35 M521.92 0.55v1.35 M525.26 131.25v-1.35 M525.26 0.55v1.35 M528.6 131.25v-1.35 M528.6 0.55v1.35 M531.94 131.25v-1.35 M531.94 0.55v1.35 M535.28 131.25v-1.35 M535.28 0.55v1.35 M538.62 131.25v-1.35 M538.62 0.55v1.35 M541.95 131.25v-1.35 M541.95 0.55v1.35 M545.29 131.25v-1.35 M545.29 0.55v1.35 M548.63 131.25v-1.35 M548.63 0.55v1.35 M551.97 131.25v-1.35 M551.97 0.55v1.35 M555.31 131.25v-3.1 M555.31 0.55v3.1 M558.65 131.25v-1.35 M558.65 0.55v1.35 M561.99 131.25v-1.35 M561.99 0.55v1.35 M565.33 131.25v-1.35 M565.33 0.55v1.35 M568.67 131.25v-1.35 M568.67 0.55v1.35 M572 131.25v-1.35 M572 0.55v1.35 M575.34 131.25v-1.35 M575.34 0.55v1.35 M578.68 131.25v-1.35 M578.68 0.55v1.35 M582.02 131.25v-1.35 M582.02 0.55v1.35 M585.36 131.25v-1.35 M585.36 0.55v1.35 M588.7 131.25v-1.35 M588.7 0.55v1.35 M592.04 131.25v-1.35 M592.04 0.55v1.35 M595.38 131.25v-1.35 M595.38 0.55v1.35 M598.72 131.25v-1.35 M598.72 0.55v1.35 M602.06 131.25v-1.35 M602.06 0.55v1.35 M605.39 131.25v-1.35 M605.39 0.55v1.35 M608.73 131.25v-1.35 M608.73 0.55v1.35 M612.07 131.25v-1.35 M612.07 0.55v1.35 M615.41 131.25v-1.35 M615.41 0.55v1.35 M618.75 131.25v-1.35 M618.75 0.55v1.35 M622.09 131.25v-3.1 M622.09 0.55v3.1 M625.43 131.25v-1.35 M625.43 0.55v1.35 M628.77 131.25v-1.35 M628.77 0.55v1.35 M632.11 131.25v-1.35 M632.11 0.55v1.35 M635.45 131.25v-1.35 M635.45 0.55v1.35 M638.78 131.25v-1.35 M638.78 0.55v1.35 M642.12 131.25v-1.35 M642.12 0.55v1.35 M645.46 131.25v-1.35 M645.46 0.55v1.35 M648.8 131.25v-1.35 M648.8 0.55v1.35 M652.14 131.25v-1.35 M652.14 0.55v1.35 M655.48 131.25v-1.35 M655.48 0.55v1.35 M658.82 131.25v-1.35 M658.82 0.55v1.35 M662.16 131.25v-1.35 M662.16 0.55v1.35 M665.5 131.25v-1.35 M665.5 0.55v1.35 M668.84 131.25v-1.35 M668.84 0.55v1.35 M672.17 131.25v-1.35 M672.17 0.55v1.35 M675.51 131.25v-1.35 M675.51 0.55v1.35 M678.85 131.25v-1.35 M678.85 0.55v1.35 M682.19 131.25v-1.35 M682.19 0.55v1.35 M685.53 131.25v-1.35 M685.53 0.55v1.35 M688.87 131.25v-3.1 M688.87 0.55v3.1 M692.21 131.25v-1.35 M692.21 0.55v1.35 M695.55 131.25v-1.35 M695.55 0.55v1.35 M698.89 131.25v-1.35 M698.89 0.55v1.35 M702.23 131.25v-1.35 M702.23 0.55v1.35 M705.57 131.25v-1.35 M705.57 0.55v1.35 M708.9 131.25v-1.35 M708.9 0.55v1.35 M712.24 131.25v-1.35 M712.24 0.55v1.35 M715.58 131.25v-1.35 M715.58 0.55v1.35 M718.92 131.25v-1.35 M718.92 0.55v1.35 M722.26 131.25v-1.35 M722.26 0.55v1.35 M725.6 131.25v-1.35 M725.6 0.55v1.35 M728.94 131.25v-1.35 M728.94 0.55v1.35 M732.28 131.25v-1.35 M732.28 0.55v1.35 M395.6 128.66h1.6 M735.5 128.66h-1.6 M395.6 126.48h1.6 M735.5 126.48h-1.6 M395.6 124.58h1.6 M735.5 124.58h-1.6 M395.6 122.91h1.6 M735.5 122.91h-1.6 M395.6 121.41h3.1 M735.5 121.41h-3.1 M395.6 111.58h1.6 M735.5 111.58h-1.6 M395.6 105.82h1.6 M735.5 105.82h-1.6 M395.6 101.74h1.6 M735.5 101.74h-1.6 M395.6 98.58h1.6 M735.5 98.58h-1.6 M395.6 95.99h1.6 M735.5 95.99h-1.6 M395.6 93.8h1.6 M735.5 93.8h-1.6 M395.6 91.91h1.6 M735.5 91.91h-1.6 M395.6 90.23h1.6 M735.5 90.23h-1.6 M395.6 88.74h3.1 M735.5 88.74h-3.1 M395.6 78.9h1.6 M735.5 78.9h-1.6 M395.6 73.15h1.6 M735.5 73.15h-1.6 M395.6 69.07h1.6 M735.5 69.07h-1.6 M395.6 65.9h1.6 M735.5 65.9h-1.6 M395.6 63.31h1.6 M735.5 63.31h-1.6 M395.6 61.13h1.6 M735.5 61.13h-1.6 M395.6 59.23h1.6 M735.5 59.23h-1.6 M395.6 57.56h1.6 M735.5 57.56h-1.6 M395.6 56.06h3.1 M735.5 56.06h-3.1 M395.6 46.23h1.6 M735.5 46.23h-1.6 M395.6 40.47h1.6 M735.5 40.47h-1.6 M395.6 36.39h1.6 M735.5 36.39h-1.6 M395.6 33.23h1.6 M735.5 33.23h-1.6 M395.6 30.64h1.6 M735.5 30.64h-1.6 M395.6 28.45h1.6 M735.5 28.45h-1.6 M395.6 26.56h1.6 M735.5 26.56h-1.6 M395.6 24.88h1.6 M735.5 24.88h-1.6 M395.6 23.39h3.1 M735.5 23.39h-3.1 M395.6 13.55h1.6 M735.5 13.55h-1.6 M395.6 7.8h1.6 M735.5 7.8h-1.6 M395.6 3.72h1.6 M735.5 3.72h-1.6" stroke="#333" stroke-width="0.6" fill="none"/>
<rect x="395.6" y="0.55" width="339.9" height="130.7" fill="none" stroke="#262626" stroke-width="1.05"/>
<text x="421.95" y="142.65" text-anchor="middle" class="tk">120</text>
<text x="488.73" y="142.65" text-anchor="middle" class="tk">140</text>
<text x="555.51" y="142.65" text-anchor="middle" class="tk">160</text>
<text x="622.29" y="142.65" text-anchor="middle" class="tk">180</text>
<text x="689.07" y="142.65" text-anchor="middle" class="tk">200</text>
<path d="M52.52 259.25v-1.35 M52.52 174.4v1.35 M61.03 259.25v-1.35 M61.03 174.4v1.35 M69.54 259.25v-1.35 M69.54 174.4v1.35 M78.05 259.25v-3.1 M78.05 174.4v3.1 M86.56 259.25v-1.35 M86.56 174.4v1.35 M95.07 259.25v-1.35 M95.07 174.4v1.35 M103.58 259.25v-1.35 M103.58 174.4v1.35 M112.09 259.25v-1.35 M112.09 174.4v1.35 M120.6 259.25v-3.1 M120.6 174.4v3.1 M129.11 259.25v-1.35 M129.11 174.4v1.35 M137.62 259.25v-1.35 M137.62 174.4v1.35 M146.13 259.25v-1.35 M146.13 174.4v1.35 M154.64 259.25v-1.35 M154.64 174.4v1.35 M163.15 259.25v-3.1 M163.15 174.4v3.1 M171.66 259.25v-1.35 M171.66 174.4v1.35 M180.17 259.25v-1.35 M180.17 174.4v1.35 M188.68 259.25v-1.35 M188.68 174.4v1.35 M197.19 259.25v-1.35 M197.19 174.4v1.35 M205.7 259.25v-3.1 M205.7 174.4v3.1 M214.21 259.25v-1.35 M214.21 174.4v1.35 M222.72 259.25v-1.35 M222.72 174.4v1.35 M231.23 259.25v-1.35 M231.23 174.4v1.35 M239.74 259.25v-1.35 M239.74 174.4v1.35 M248.25 259.25v-3.1 M248.25 174.4v3.1 M256.76 259.25v-1.35 M256.76 174.4v1.35 M265.27 259.25v-1.35 M265.27 174.4v1.35 M273.78 259.25v-1.35 M273.78 174.4v1.35 M282.29 259.25v-1.35 M282.29 174.4v1.35 M290.8 259.25v-3.1 M290.8 174.4v3.1 M299.31 259.25v-1.35 M299.31 174.4v1.35 M307.82 259.25v-1.35 M307.82 174.4v1.35 M316.33 259.25v-1.35 M316.33 174.4v1.35 M324.84 259.25v-1.35 M324.84 174.4v1.35 M333.35 259.25v-3.1 M333.35 174.4v3.1 M341.86 259.25v-1.35 M341.86 174.4v1.35 M350.37 259.25v-1.35 M350.37 174.4v1.35 M358.88 259.25v-1.35 M358.88 174.4v1.35 M367.39 259.25v-1.35 M367.39 174.4v1.35 M375.9 259.25v-3.1 M375.9 174.4v3.1 M44 257.57h1.6 M384.4 257.57h-1.6 M44 256.15h1.6 M384.4 256.15h-1.6 M44 254.92h1.6 M384.4 254.92h-1.6 M44 253.84h1.6 M384.4 253.84h-1.6 M44 252.86h3.1 M384.4 252.86h-3.1 M44 246.48h1.6 M384.4 246.48h-1.6 M44 242.74h1.6 M384.4 242.74h-1.6 M44 240.09h1.6 M384.4 240.09h-1.6 M44 238.04h1.6 M384.4 238.04h-1.6 M44 236.36h1.6 M384.4 236.36h-1.6 M44 234.94h1.6 M384.4 234.94h-1.6 M44 233.71h1.6 M384.4 233.71h-1.6 M44 232.62h1.6 M384.4 232.62h-1.6 M44 231.65h3.1 M384.4 231.65h-3.1 M44 225.27h1.6 M384.4 225.27h-1.6 M44 221.53h1.6 M384.4 221.53h-1.6 M44 218.88h1.6 M384.4 218.88h-1.6 M44 216.82h1.6 M384.4 216.82h-1.6 M44 215.15h1.6 M384.4 215.15h-1.6 M44 213.73h1.6 M384.4 213.73h-1.6 M44 212.5h1.6 M384.4 212.5h-1.6 M44 211.41h1.6 M384.4 211.41h-1.6 M44 210.44h3.1 M384.4 210.44h-3.1 M44 204.05h1.6 M384.4 204.05h-1.6 M44 200.32h1.6 M384.4 200.32h-1.6 M44 197.67h1.6 M384.4 197.67h-1.6 M44 195.61h1.6 M384.4 195.61h-1.6 M44 193.93h1.6 M384.4 193.93h-1.6 M44 192.51h1.6 M384.4 192.51h-1.6 M44 191.28h1.6 M384.4 191.28h-1.6 M44 190.2h1.6 M384.4 190.2h-1.6 M44 189.23h3.1 M384.4 189.23h-3.1 M44 182.84h1.6 M384.4 182.84h-1.6 M44 179.11h1.6 M384.4 179.11h-1.6 M44 176.46h1.6 M384.4 176.46h-1.6" stroke="#333" stroke-width="0.6" fill="none"/>
<rect x="44" y="174.4" width="340.4" height="84.85" fill="none" stroke="#262626" stroke-width="1.05"/>
<text x="78.25" y="270.65" text-anchor="middle" class="tk">50</text>
<text x="120.8" y="270.65" text-anchor="middle" class="tk">55</text>
<text x="163.35" y="270.65" text-anchor="middle" class="tk">60</text>
<text x="205.9" y="270.65" text-anchor="middle" class="tk">65</text>
<text x="248.45" y="270.65" text-anchor="middle" class="tk">70</text>
<text x="291" y="270.65" text-anchor="middle" class="tk">75</text>
<text x="333.55" y="270.65" text-anchor="middle" class="tk">80</text>
<text x="376.1" y="270.65" text-anchor="middle" class="tk">85</text>
<text x="16.7" y="192.83" class="tk">10<tspan dy="-5.7" dx="0.5" font-size="8.2">-3</tspan></text>
<text x="16.7" y="214.24" class="tk">10<tspan dy="-5.7" dx="0.5" font-size="8.2">-4</tspan></text>
<text x="16.7" y="235.65" class="tk">10<tspan dy="-5.7" dx="0.5" font-size="8.2">-5</tspan></text>
<text x="16.7" y="257.06" class="tk">10<tspan dy="-5.7" dx="0.5" font-size="8.2">-6</tspan></text>
<path d="M404.01 259.25v-1.35 M404.01 174.4v1.35 M412.5 259.25v-1.35 M412.5 174.4v1.35 M421 259.25v-1.35 M421 174.4v1.35 M429.5 259.25v-3.1 M429.5 174.4v3.1 M438 259.25v-1.35 M438 174.4v1.35 M446.5 259.25v-1.35 M446.5 174.4v1.35 M454.99 259.25v-1.35 M454.99 174.4v1.35 M463.49 259.25v-1.35 M463.49 174.4v1.35 M471.99 259.25v-3.1 M471.99 174.4v3.1 M480.49 259.25v-1.35 M480.49 174.4v1.35 M488.98 259.25v-1.35 M488.98 174.4v1.35 M497.48 259.25v-1.35 M497.48 174.4v1.35 M505.98 259.25v-1.35 M505.98 174.4v1.35 M514.48 259.25v-3.1 M514.48 174.4v3.1 M522.97 259.25v-1.35 M522.97 174.4v1.35 M531.47 259.25v-1.35 M531.47 174.4v1.35 M539.97 259.25v-1.35 M539.97 174.4v1.35 M548.47 259.25v-1.35 M548.47 174.4v1.35 M556.96 259.25v-3.1 M556.96 174.4v3.1 M565.46 259.25v-1.35 M565.46 174.4v1.35 M573.96 259.25v-1.35 M573.96 174.4v1.35 M582.46 259.25v-1.35 M582.46 174.4v1.35 M590.95 259.25v-1.35 M590.95 174.4v1.35 M599.45 259.25v-3.1 M599.45 174.4v3.1 M607.95 259.25v-1.35 M607.95 174.4v1.35 M616.45 259.25v-1.35 M616.45 174.4v1.35 M624.94 259.25v-1.35 M624.94 174.4v1.35 M633.44 259.25v-1.35 M633.44 174.4v1.35 M641.94 259.25v-3.1 M641.94 174.4v3.1 M650.43 259.25v-1.35 M650.43 174.4v1.35 M658.93 259.25v-1.35 M658.93 174.4v1.35 M667.43 259.25v-1.35 M667.43 174.4v1.35 M675.93 259.25v-1.35 M675.93 174.4v1.35 M684.42 259.25v-3.1 M684.42 174.4v3.1 M692.92 259.25v-1.35 M692.92 174.4v1.35 M701.42 259.25v-1.35 M701.42 174.4v1.35 M709.92 259.25v-1.35 M709.92 174.4v1.35 M718.41 259.25v-1.35 M718.41 174.4v1.35 M726.91 259.25v-3.1 M726.91 174.4v3.1 M395.6 257.57h1.6 M735.5 257.57h-1.6 M395.6 256.15h1.6 M735.5 256.15h-1.6 M395.6 254.92h1.6 M735.5 254.92h-1.6 M395.6 253.84h1.6 M735.5 253.84h-1.6 M395.6 252.86h3.1 M735.5 252.86h-3.1 M395.6 246.48h1.6 M735.5 246.48h-1.6 M395.6 242.74h1.6 M735.5 242.74h-1.6 M395.6 240.09h1.6 M735.5 240.09h-1.6 M395.6 238.04h1.6 M735.5 238.04h-1.6 M395.6 236.36h1.6 M735.5 236.36h-1.6 M395.6 234.94h1.6 M735.5 234.94h-1.6 M395.6 233.71h1.6 M735.5 233.71h-1.6 M395.6 232.62h1.6 M735.5 232.62h-1.6 M395.6 231.65h3.1 M735.5 231.65h-3.1 M395.6 225.27h1.6 M735.5 225.27h-1.6 M395.6 221.53h1.6 M735.5 221.53h-1.6 M395.6 218.88h1.6 M735.5 218.88h-1.6 M395.6 216.82h1.6 M735.5 216.82h-1.6 M395.6 215.15h1.6 M735.5 215.15h-1.6 M395.6 213.73h1.6 M735.5 213.73h-1.6 M395.6 212.5h1.6 M735.5 212.5h-1.6 M395.6 211.41h1.6 M735.5 211.41h-1.6 M395.6 210.44h3.1 M735.5 210.44h-3.1 M395.6 204.05h1.6 M735.5 204.05h-1.6 M395.6 200.32h1.6 M735.5 200.32h-1.6 M395.6 197.67h1.6 M735.5 197.67h-1.6 M395.6 195.61h1.6 M735.5 195.61h-1.6 M395.6 193.93h1.6 M735.5 193.93h-1.6 M395.6 192.51h1.6 M735.5 192.51h-1.6 M395.6 191.28h1.6 M735.5 191.28h-1.6 M395.6 190.2h1.6 M735.5 190.2h-1.6 M395.6 189.23h3.1 M735.5 189.23h-3.1 M395.6 182.84h1.6 M735.5 182.84h-1.6 M395.6 179.11h1.6 M735.5 179.11h-1.6 M395.6 176.46h1.6 M735.5 176.46h-1.6" stroke="#333" stroke-width="0.6" fill="none"/>
<rect x="395.6" y="174.4" width="339.9" height="84.85" fill="none" stroke="#262626" stroke-width="1.05"/>
<text x="429.7" y="270.65" text-anchor="middle" class="tk">50</text>
<text x="472.19" y="270.65" text-anchor="middle" class="tk">55</text>
<text x="514.68" y="270.65" text-anchor="middle" class="tk">60</text>
<text x="557.16" y="270.65" text-anchor="middle" class="tk">65</text>
<text x="599.65" y="270.65" text-anchor="middle" class="tk">70</text>
<text x="642.14" y="270.65" text-anchor="middle" class="tk">75</text>
<text x="684.62" y="270.65" text-anchor="middle" class="tk">80</text>
<text x="727.11" y="270.65" text-anchor="middle" class="tk">85</text>
<text x="163.5" y="159.4" class="lab" textLength="102.1" lengthAdjust="spacingAndGlyphs"><tspan font-style="italic">A</tspan> (mass number)</text>
<text x="515.1" y="159.5" class="lab" textLength="102.1" lengthAdjust="spacingAndGlyphs"><tspan font-style="italic">A</tspan> (mass number)</text>
<text x="158.9" y="286.9" class="lab" textLength="111.8" lengthAdjust="spacingAndGlyphs"><tspan font-style="italic">Z</tspan> (atomic number)</text>
<text x="510.2" y="286.9" class="lab" textLength="111.8" lengthAdjust="spacingAndGlyphs"><tspan font-style="italic">Z</tspan> (atomic number)</text>
<text transform="translate(10.3,99.3) rotate(-90)" class="lab" textLength="67.4" lengthAdjust="spacingAndGlyphs">Abundance</text>
<text transform="translate(10.3,250.1) rotate(-90)" class="lab" textLength="67.4" lengthAdjust="spacingAndGlyphs">Abundance</text>
<rect x="512.3" y="11.5" width="23.4" height="8.4" fill="rgb(0,191,191)" fill-opacity="0.7" stroke="rgb(0,120,120)" stroke-opacity="0.75" stroke-width="0.7"/>
<text x="545.5" y="19.6" class="leg" textLength="23.6" lengthAdjust="spacingAndGlyphs">Cold</text>
<rect x="579.3" y="11.5" width="23.4" height="8.4" fill="rgb(255,80,80)" fill-opacity="0.745" stroke="rgb(255,80,80)" stroke-opacity="0.745" stroke-width="0.9"/>
<text x="612.2" y="19.6" class="leg" textLength="51.6" lengthAdjust="spacingAndGlyphs">Reheating</text>
<path d="M685.3 9.4V21.9M683.8 9.4h3M683.8 21.9h3" stroke="#111" stroke-width="0.9" fill="none"/><circle cx="685.3" cy="15.7" r="2.05"/>
<text x="695.2" y="19.6" class="leg" textLength="25.4" lengthAdjust="spacingAndGlyphs">Solar</text>
</svg>
</body></html>
